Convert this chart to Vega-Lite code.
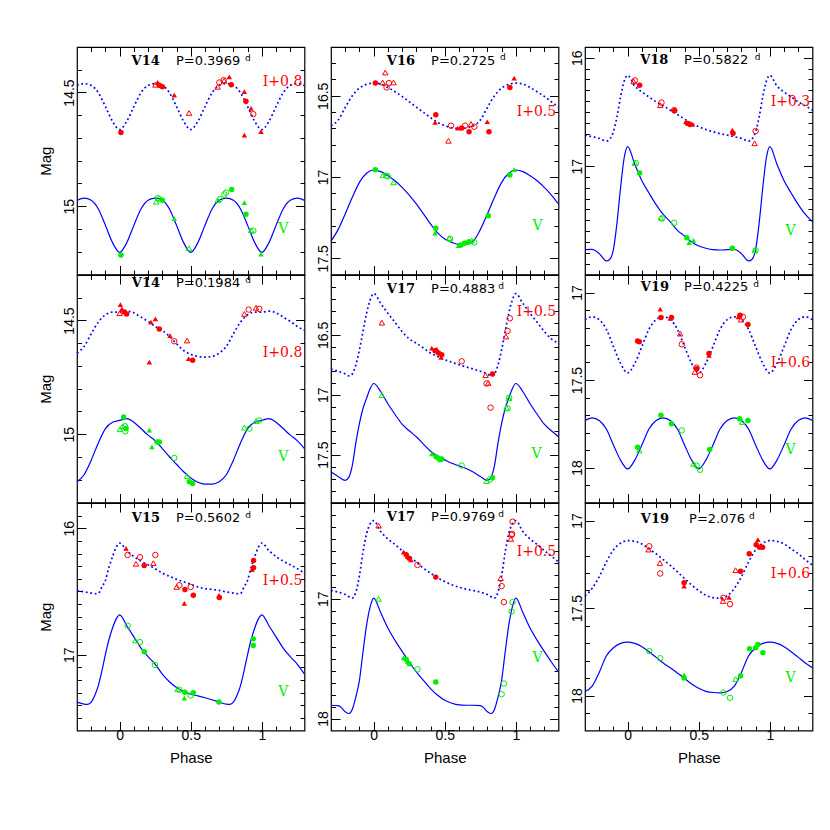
{
"$schema":"https://vega.github.io/schema/vega-lite/v6.json",
"background":"white",
"padding":{"left":37,"top":45,"right":5,"bottom":5},
"autosize":{"type":"pad"},
"bounds":"flush",
"columns":3,
"spacing":{"row":0,"column":26},
"config":{
 "view":{"stroke":"black","strokeWidth":1.2},
 "axis":{"domain":false,"grid":false,"tickColor":"black","tickWidth":1,"labelFont":"Liberation Sans","labelFontSize":14,"labelColor":"black","titleFont":"Liberation Sans","titleFontSize":15,"titleFontWeight":"normal","titleColor":"black","labelOverlap":false,"labelFlush":false},
 "font":"Liberation Sans"
},
"datasets":{
"cv":[
{"k":1,"b":"V","p":-0.3,"m":14.974},{"k":1,"b":"V","p":-0.25,"m":14.964},{"k":1,"b":"V","p":-0.2,"m":14.974},{"k":1,"b":"V","p":-0.15,"m":15.012},{"k":1,"b":"V","p":-0.1,"m":15.084},{"k":1,"b":"V","p":-0.05,"m":15.160},{"k":1,"b":"V","p":0,"m":15.203},{"k":1,"b":"V","p":0.05,"m":15.160},{"k":1,"b":"V","p":0.1,"m":15.084},{"k":1,"b":"V","p":0.15,"m":15.012},{"k":1,"b":"V","p":0.2,"m":14.974},{"k":1,"b":"V","p":0.25,"m":14.964},{"k":1,"b":"V","p":0.3,"m":14.974},{"k":1,"b":"V","p":0.35,"m":15.012},{"k":1,"b":"V","p":0.4,"m":15.084},{"k":1,"b":"V","p":0.45,"m":15.160},{"k":1,"b":"V","p":0.5,"m":15.203},{"k":1,"b":"V","p":0.55,"m":15.160},{"k":1,"b":"V","p":0.6,"m":15.084},{"k":1,"b":"V","p":0.65,"m":15.012},{"k":1,"b":"V","p":0.7,"m":14.974},{"k":1,"b":"V","p":0.75,"m":14.964},{"k":1,"b":"V","p":0.8,"m":14.974},{"k":1,"b":"V","p":0.85,"m":15.012},{"k":1,"b":"V","p":0.9,"m":15.084},{"k":1,"b":"V","p":0.95,"m":15.160},{"k":1,"b":"V","p":1,"m":15.203},{"k":1,"b":"V","p":1.05,"m":15.160},{"k":1,"b":"V","p":1.1,"m":15.084},{"k":1,"b":"V","p":1.15,"m":15.012},{"k":1,"b":"V","p":1.2,"m":14.974},{"k":1,"b":"V","p":1.25,"m":14.964},{"k":1,"b":"V","p":1.3,"m":14.974},
{"k":1,"b":"I","p":-0.3,"m":14.469},{"k":1,"b":"I","p":-0.25,"m":14.461},{"k":1,"b":"I","p":-0.2,"m":14.469},{"k":1,"b":"I","p":-0.15,"m":14.501},{"k":1,"b":"I","p":-0.1,"m":14.562},{"k":1,"b":"I","p":-0.05,"m":14.627},{"k":1,"b":"I","p":0,"m":14.663},{"k":1,"b":"I","p":0.05,"m":14.627},{"k":1,"b":"I","p":0.1,"m":14.562},{"k":1,"b":"I","p":0.15,"m":14.501},{"k":1,"b":"I","p":0.2,"m":14.469},{"k":1,"b":"I","p":0.25,"m":14.461},{"k":1,"b":"I","p":0.3,"m":14.469},{"k":1,"b":"I","p":0.35,"m":14.501},{"k":1,"b":"I","p":0.4,"m":14.562},{"k":1,"b":"I","p":0.45,"m":14.627},{"k":1,"b":"I","p":0.5,"m":14.663},{"k":1,"b":"I","p":0.55,"m":14.627},{"k":1,"b":"I","p":0.6,"m":14.562},{"k":1,"b":"I","p":0.65,"m":14.501},{"k":1,"b":"I","p":0.7,"m":14.469},{"k":1,"b":"I","p":0.75,"m":14.461},{"k":1,"b":"I","p":0.8,"m":14.469},{"k":1,"b":"I","p":0.85,"m":14.501},{"k":1,"b":"I","p":0.9,"m":14.562},{"k":1,"b":"I","p":0.95,"m":14.627},{"k":1,"b":"I","p":1,"m":14.663},{"k":1,"b":"I","p":1.05,"m":14.627},{"k":1,"b":"I","p":1.1,"m":14.562},{"k":1,"b":"I","p":1.15,"m":14.501},{"k":1,"b":"I","p":1.2,"m":14.469},{"k":1,"b":"I","p":1.25,"m":14.461},{"k":1,"b":"I","p":1.3,"m":14.469},
{"k":2,"b":"V","p":-0.3,"m":17.395},{"k":2,"b":"V","p":-0.25,"m":17.324},{"k":2,"b":"V","p":-0.2,"m":17.227},{"k":2,"b":"V","p":-0.15,"m":17.125},{"k":2,"b":"V","p":-0.1,"m":17.033},{"k":2,"b":"V","p":-0.05,"m":16.977},{"k":2,"b":"V","p":0,"m":16.957},{"k":2,"b":"V","p":0.05,"m":16.967},{"k":2,"b":"V","p":0.1,"m":16.992},{"k":2,"b":"V","p":0.15,"m":17.023},{"k":2,"b":"V","p":0.2,"m":17.064},{"k":2,"b":"V","p":0.25,"m":17.111},{"k":2,"b":"V","p":0.3,"m":17.166},{"k":2,"b":"V","p":0.35,"m":17.227},{"k":2,"b":"V","p":0.4,"m":17.289},{"k":2,"b":"V","p":0.45,"m":17.344},{"k":2,"b":"V","p":0.5,"m":17.381},{"k":2,"b":"V","p":0.55,"m":17.402},{"k":2,"b":"V","p":0.6,"m":17.414},{"k":2,"b":"V","p":0.65,"m":17.414},{"k":2,"b":"V","p":0.7,"m":17.395},{"k":2,"b":"V","p":0.75,"m":17.324},{"k":2,"b":"V","p":0.8,"m":17.227},{"k":2,"b":"V","p":0.85,"m":17.125},{"k":2,"b":"V","p":0.9,"m":17.033},{"k":2,"b":"V","p":0.95,"m":16.977},{"k":2,"b":"V","p":1,"m":16.957},{"k":2,"b":"V","p":1.05,"m":16.967},{"k":2,"b":"V","p":1.1,"m":16.992},{"k":2,"b":"V","p":1.15,"m":17.023},{"k":2,"b":"V","p":1.2,"m":17.064},{"k":2,"b":"V","p":1.25,"m":17.111},{"k":2,"b":"V","p":1.3,"m":17.166},
{"k":2,"b":"I","p":-0.3,"m":16.684},{"k":2,"b":"I","p":-0.25,"m":16.650},{"k":2,"b":"I","p":-0.2,"m":16.572},{"k":2,"b":"I","p":-0.15,"m":16.500},{"k":2,"b":"I","p":-0.1,"m":16.453},{"k":2,"b":"I","p":-0.05,"m":16.430},{"k":2,"b":"I","p":0,"m":16.422},{"k":2,"b":"I","p":0.05,"m":16.428},{"k":2,"b":"I","p":0.1,"m":16.449},{"k":2,"b":"I","p":0.15,"m":16.475},{"k":2,"b":"I","p":0.2,"m":16.504},{"k":2,"b":"I","p":0.25,"m":16.537},{"k":2,"b":"I","p":0.3,"m":16.570},{"k":2,"b":"I","p":0.35,"m":16.602},{"k":2,"b":"I","p":0.4,"m":16.635},{"k":2,"b":"I","p":0.45,"m":16.664},{"k":2,"b":"I","p":0.5,"m":16.684},{"k":2,"b":"I","p":0.55,"m":16.697},{"k":2,"b":"I","p":0.6,"m":16.701},{"k":2,"b":"I","p":0.65,"m":16.699},{"k":2,"b":"I","p":0.7,"m":16.684},{"k":2,"b":"I","p":0.75,"m":16.650},{"k":2,"b":"I","p":0.8,"m":16.572},{"k":2,"b":"I","p":0.85,"m":16.500},{"k":2,"b":"I","p":0.9,"m":16.453},{"k":2,"b":"I","p":0.95,"m":16.430},{"k":2,"b":"I","p":1,"m":16.422},{"k":2,"b":"I","p":1.05,"m":16.428},{"k":2,"b":"I","p":1.1,"m":16.449},{"k":2,"b":"I","p":1.15,"m":16.475},{"k":2,"b":"I","p":1.2,"m":16.504},{"k":2,"b":"I","p":1.25,"m":16.537},{"k":2,"b":"I","p":1.3,"m":16.570},
{"k":3,"b":"V","p":-0.3,"m":17.771},{"k":3,"b":"V","p":-0.25,"m":17.768},{"k":3,"b":"V","p":-0.2,"m":17.807},{"k":3,"b":"V","p":-0.15,"m":17.875},{"k":3,"b":"V","p":-0.125,"m":17.859},{"k":3,"b":"V","p":-0.1,"m":17.768},{"k":3,"b":"V","p":-0.075,"m":17.523},{"k":3,"b":"V","p":-0.05,"m":17.202},{"k":3,"b":"V","p":-0.025,"m":16.927},{"k":3,"b":"V","p":0,"m":16.820},{"k":3,"b":"V","p":0.05,"m":16.982},{"k":3,"b":"V","p":0.1,"m":17.135},{"k":3,"b":"V","p":0.15,"m":17.248},{"k":3,"b":"V","p":0.2,"m":17.355},{"k":3,"b":"V","p":0.25,"m":17.446},{"k":3,"b":"V","p":0.3,"m":17.514},{"k":3,"b":"V","p":0.35,"m":17.593},{"k":3,"b":"V","p":0.4,"m":17.645},{"k":3,"b":"V","p":0.45,"m":17.700},{"k":3,"b":"V","p":0.5,"m":17.737},{"k":3,"b":"V","p":0.55,"m":17.758},{"k":3,"b":"V","p":0.6,"m":17.771},{"k":3,"b":"V","p":0.65,"m":17.774},{"k":3,"b":"V","p":0.7,"m":17.771},{"k":3,"b":"V","p":0.75,"m":17.768},{"k":3,"b":"V","p":0.8,"m":17.807},{"k":3,"b":"V","p":0.85,"m":17.875},{"k":3,"b":"V","p":0.875,"m":17.859},{"k":3,"b":"V","p":0.9,"m":17.768},{"k":3,"b":"V","p":0.925,"m":17.523},{"k":3,"b":"V","p":0.95,"m":17.202},{"k":3,"b":"V","p":0.975,"m":16.927},{"k":3,"b":"V","p":1,"m":16.820},{"k":3,"b":"V","p":1.05,"m":16.982},{"k":3,"b":"V","p":1.1,"m":17.135},{"k":3,"b":"V","p":1.15,"m":17.248},{"k":3,"b":"V","p":1.2,"m":17.355},{"k":3,"b":"V","p":1.25,"m":17.446},{"k":3,"b":"V","p":1.3,"m":17.514},
{"k":3,"b":"I","p":-0.3,"m":16.713},{"k":3,"b":"I","p":-0.25,"m":16.728},{"k":3,"b":"I","p":-0.2,"m":16.743},{"k":3,"b":"I","p":-0.15,"m":16.768},{"k":3,"b":"I","p":-0.125,"m":16.749},{"k":3,"b":"I","p":-0.1,"m":16.682},{"k":3,"b":"I","p":-0.075,"m":16.544},{"k":3,"b":"I","p":-0.05,"m":16.361},{"k":3,"b":"I","p":-0.025,"m":16.217},{"k":3,"b":"I","p":0,"m":16.162},{"k":3,"b":"I","p":0.05,"m":16.260},{"k":3,"b":"I","p":0.1,"m":16.315},{"k":3,"b":"I","p":0.15,"m":16.361},{"k":3,"b":"I","p":0.2,"m":16.407},{"k":3,"b":"I","p":0.25,"m":16.443},{"k":3,"b":"I","p":0.3,"m":16.483},{"k":3,"b":"I","p":0.35,"m":16.523},{"k":3,"b":"I","p":0.4,"m":16.566},{"k":3,"b":"I","p":0.45,"m":16.606},{"k":3,"b":"I","p":0.5,"m":16.636},{"k":3,"b":"I","p":0.55,"m":16.661},{"k":3,"b":"I","p":0.6,"m":16.682},{"k":3,"b":"I","p":0.65,"m":16.700},{"k":3,"b":"I","p":0.7,"m":16.713},{"k":3,"b":"I","p":0.75,"m":16.728},{"k":3,"b":"I","p":0.8,"m":16.743},{"k":3,"b":"I","p":0.85,"m":16.768},{"k":3,"b":"I","p":0.875,"m":16.749},{"k":3,"b":"I","p":0.9,"m":16.682},{"k":3,"b":"I","p":0.925,"m":16.544},{"k":3,"b":"I","p":0.95,"m":16.361},{"k":3,"b":"I","p":0.975,"m":16.217},{"k":3,"b":"I","p":1,"m":16.162},{"k":3,"b":"I","p":1.05,"m":16.260},{"k":3,"b":"I","p":1.1,"m":16.315},{"k":3,"b":"I","p":1.15,"m":16.361},{"k":3,"b":"I","p":1.2,"m":16.407},{"k":3,"b":"I","p":1.25,"m":16.443},{"k":3,"b":"I","p":1.3,"m":16.483},
{"k":4,"b":"V","p":-0.3,"m":15.209},{"k":4,"b":"V","p":-0.25,"m":15.178},{"k":4,"b":"V","p":-0.2,"m":15.114},{"k":4,"b":"V","p":-0.15,"m":15.038},{"k":4,"b":"V","p":-0.1,"m":14.975},{"k":4,"b":"V","p":-0.05,"m":14.947},{"k":4,"b":"V","p":0,"m":14.939},{"k":4,"b":"V","p":0.05,"m":14.931},{"k":4,"b":"V","p":0.1,"m":14.947},{"k":4,"b":"V","p":0.15,"m":14.975},{"k":4,"b":"V","p":0.2,"m":15.004},{"k":4,"b":"V","p":0.25,"m":15.029},{"k":4,"b":"V","p":0.3,"m":15.063},{"k":4,"b":"V","p":0.35,"m":15.099},{"k":4,"b":"V","p":0.4,"m":15.132},{"k":4,"b":"V","p":0.45,"m":15.165},{"k":4,"b":"V","p":0.5,"m":15.192},{"k":4,"b":"V","p":0.55,"m":15.211},{"k":4,"b":"V","p":0.6,"m":15.219},{"k":4,"b":"V","p":0.65,"m":15.219},{"k":4,"b":"V","p":0.7,"m":15.209},{"k":4,"b":"V","p":0.75,"m":15.178},{"k":4,"b":"V","p":0.8,"m":15.114},{"k":4,"b":"V","p":0.85,"m":15.038},{"k":4,"b":"V","p":0.9,"m":14.975},{"k":4,"b":"V","p":0.95,"m":14.947},{"k":4,"b":"V","p":1,"m":14.939},{"k":4,"b":"V","p":1.05,"m":14.931},{"k":4,"b":"V","p":1.1,"m":14.947},{"k":4,"b":"V","p":1.15,"m":14.975},{"k":4,"b":"V","p":1.2,"m":15.004},{"k":4,"b":"V","p":1.25,"m":15.029},{"k":4,"b":"V","p":1.3,"m":15.063},
{"k":4,"b":"I","p":-0.3,"m":14.643},{"k":4,"b":"I","p":-0.25,"m":14.614},{"k":4,"b":"I","p":-0.2,"m":14.558},{"k":4,"b":"I","p":-0.15,"m":14.507},{"k":4,"b":"I","p":-0.1,"m":14.475},{"k":4,"b":"I","p":-0.05,"m":14.463},{"k":4,"b":"I","p":0,"m":14.463},{"k":4,"b":"I","p":0.05,"m":14.459},{"k":4,"b":"I","p":0.1,"m":14.466},{"k":4,"b":"I","p":0.15,"m":14.485},{"k":4,"b":"I","p":0.2,"m":14.504},{"k":4,"b":"I","p":0.25,"m":14.526},{"k":4,"b":"I","p":0.3,"m":14.544},{"k":4,"b":"I","p":0.35,"m":14.570},{"k":4,"b":"I","p":0.4,"m":14.602},{"k":4,"b":"I","p":0.45,"m":14.632},{"k":4,"b":"I","p":0.5,"m":14.649},{"k":4,"b":"I","p":0.55,"m":14.658},{"k":4,"b":"I","p":0.6,"m":14.661},{"k":4,"b":"I","p":0.65,"m":14.658},{"k":4,"b":"I","p":0.7,"m":14.643},{"k":4,"b":"I","p":0.75,"m":14.614},{"k":4,"b":"I","p":0.8,"m":14.558},{"k":4,"b":"I","p":0.85,"m":14.507},{"k":4,"b":"I","p":0.9,"m":14.475},{"k":4,"b":"I","p":0.95,"m":14.463},{"k":4,"b":"I","p":1,"m":14.463},{"k":4,"b":"I","p":1.05,"m":14.459},{"k":4,"b":"I","p":1.1,"m":14.466},{"k":4,"b":"I","p":1.15,"m":14.485},{"k":4,"b":"I","p":1.2,"m":14.504},{"k":4,"b":"I","p":1.25,"m":14.526},{"k":4,"b":"I","p":1.3,"m":14.544},
{"k":5,"b":"V","p":-0.3,"m":17.646},{"k":5,"b":"V","p":-0.25,"m":17.682},{"k":5,"b":"V","p":-0.2,"m":17.715},{"k":5,"b":"V","p":-0.175,"m":17.690},{"k":5,"b":"V","p":-0.15,"m":17.590},{"k":5,"b":"V","p":-0.125,"m":17.400},{"k":5,"b":"V","p":-0.1,"m":17.240},{"k":5,"b":"V","p":-0.075,"m":17.115},{"k":5,"b":"V","p":-0.05,"m":17.030},{"k":5,"b":"V","p":-0.025,"m":16.950},{"k":5,"b":"V","p":0,"m":16.906},{"k":5,"b":"V","p":0.05,"m":16.975},{"k":5,"b":"V","p":0.1,"m":17.075},{"k":5,"b":"V","p":0.15,"m":17.163},{"k":5,"b":"V","p":0.2,"m":17.246},{"k":5,"b":"V","p":0.25,"m":17.301},{"k":5,"b":"V","p":0.3,"m":17.351},{"k":5,"b":"V","p":0.35,"m":17.412},{"k":5,"b":"V","p":0.4,"m":17.472},{"k":5,"b":"V","p":0.45,"m":17.514},{"k":5,"b":"V","p":0.5,"m":17.544},{"k":5,"b":"V","p":0.55,"m":17.572},{"k":5,"b":"V","p":0.6,"m":17.594},{"k":5,"b":"V","p":0.65,"m":17.616},{"k":5,"b":"V","p":0.7,"m":17.646},{"k":5,"b":"V","p":0.75,"m":17.682},{"k":5,"b":"V","p":0.8,"m":17.715},{"k":5,"b":"V","p":0.825,"m":17.690},{"k":5,"b":"V","p":0.85,"m":17.590},{"k":5,"b":"V","p":0.875,"m":17.400},{"k":5,"b":"V","p":0.9,"m":17.240},{"k":5,"b":"V","p":0.925,"m":17.115},{"k":5,"b":"V","p":0.95,"m":17.030},{"k":5,"b":"V","p":0.975,"m":16.950},{"k":5,"b":"V","p":1,"m":16.906},{"k":5,"b":"V","p":1.05,"m":16.975},{"k":5,"b":"V","p":1.1,"m":17.075},{"k":5,"b":"V","p":1.15,"m":17.163},{"k":5,"b":"V","p":1.2,"m":17.246},{"k":5,"b":"V","p":1.25,"m":17.301},{"k":5,"b":"V","p":1.3,"m":17.351},
{"k":5,"b":"I","p":-0.3,"m":16.785},{"k":5,"b":"I","p":-0.25,"m":16.804},{"k":5,"b":"I","p":-0.2,"m":16.826},{"k":5,"b":"I","p":-0.175,"m":16.843},{"k":5,"b":"I","p":-0.15,"m":16.826},{"k":5,"b":"I","p":-0.125,"m":16.749},{"k":5,"b":"I","p":-0.1,"m":16.624},{"k":5,"b":"I","p":-0.075,"m":16.472},{"k":5,"b":"I","p":-0.05,"m":16.320},{"k":5,"b":"I","p":-0.025,"m":16.210},{"k":5,"b":"I","p":0,"m":16.155},{"k":5,"b":"I","p":0.05,"m":16.238},{"k":5,"b":"I","p":0.1,"m":16.320},{"k":5,"b":"I","p":0.15,"m":16.395},{"k":5,"b":"I","p":0.2,"m":16.472},{"k":5,"b":"I","p":0.25,"m":16.533},{"k":5,"b":"I","p":0.3,"m":16.569},{"k":5,"b":"I","p":0.35,"m":16.610},{"k":5,"b":"I","p":0.4,"m":16.652},{"k":5,"b":"I","p":0.45,"m":16.680},{"k":5,"b":"I","p":0.5,"m":16.707},{"k":5,"b":"I","p":0.55,"m":16.729},{"k":5,"b":"I","p":0.6,"m":16.749},{"k":5,"b":"I","p":0.65,"m":16.768},{"k":5,"b":"I","p":0.7,"m":16.785},{"k":5,"b":"I","p":0.75,"m":16.804},{"k":5,"b":"I","p":0.8,"m":16.826},{"k":5,"b":"I","p":0.825,"m":16.843},{"k":5,"b":"I","p":0.85,"m":16.826},{"k":5,"b":"I","p":0.875,"m":16.749},{"k":5,"b":"I","p":0.9,"m":16.624},{"k":5,"b":"I","p":0.925,"m":16.472},{"k":5,"b":"I","p":0.95,"m":16.320},{"k":5,"b":"I","p":0.975,"m":16.210},{"k":5,"b":"I","p":1,"m":16.155},{"k":5,"b":"I","p":1.05,"m":16.238},{"k":5,"b":"I","p":1.1,"m":16.320},{"k":5,"b":"I","p":1.15,"m":16.395},{"k":5,"b":"I","p":1.2,"m":16.472},{"k":5,"b":"I","p":1.25,"m":16.533},{"k":5,"b":"I","p":1.3,"m":16.569},
{"k":6,"b":"V","p":-0.3,"m":17.731},{"k":6,"b":"V","p":-0.25,"m":17.716},{"k":6,"b":"V","p":-0.2,"m":17.731},{"k":6,"b":"V","p":-0.15,"m":17.780},{"k":6,"b":"V","p":-0.1,"m":17.871},{"k":6,"b":"V","p":-0.05,"m":17.958},{"k":6,"b":"V","p":0,"m":18.008},{"k":6,"b":"V","p":0.05,"m":17.958},{"k":6,"b":"V","p":0.1,"m":17.871},{"k":6,"b":"V","p":0.15,"m":17.780},{"k":6,"b":"V","p":0.2,"m":17.731},{"k":6,"b":"V","p":0.25,"m":17.716},{"k":6,"b":"V","p":0.3,"m":17.731},{"k":6,"b":"V","p":0.35,"m":17.780},{"k":6,"b":"V","p":0.4,"m":17.871},{"k":6,"b":"V","p":0.45,"m":17.958},{"k":6,"b":"V","p":0.5,"m":18.008},{"k":6,"b":"V","p":0.55,"m":17.958},{"k":6,"b":"V","p":0.6,"m":17.871},{"k":6,"b":"V","p":0.65,"m":17.780},{"k":6,"b":"V","p":0.7,"m":17.731},{"k":6,"b":"V","p":0.75,"m":17.716},{"k":6,"b":"V","p":0.8,"m":17.731},{"k":6,"b":"V","p":0.85,"m":17.780},{"k":6,"b":"V","p":0.9,"m":17.871},{"k":6,"b":"V","p":0.95,"m":17.958},{"k":6,"b":"V","p":1,"m":18.008},{"k":6,"b":"V","p":1.05,"m":17.958},{"k":6,"b":"V","p":1.1,"m":17.871},{"k":6,"b":"V","p":1.15,"m":17.780},{"k":6,"b":"V","p":1.2,"m":17.731},{"k":6,"b":"V","p":1.25,"m":17.716},{"k":6,"b":"V","p":1.3,"m":17.731},
{"k":6,"b":"I","p":-0.3,"m":17.155},{"k":6,"b":"I","p":-0.25,"m":17.139},{"k":6,"b":"I","p":-0.2,"m":17.155},{"k":6,"b":"I","p":-0.15,"m":17.210},{"k":6,"b":"I","p":-0.1,"m":17.309},{"k":6,"b":"I","p":-0.05,"m":17.405},{"k":6,"b":"I","p":0,"m":17.460},{"k":6,"b":"I","p":0.05,"m":17.405},{"k":6,"b":"I","p":0.1,"m":17.309},{"k":6,"b":"I","p":0.15,"m":17.210},{"k":6,"b":"I","p":0.2,"m":17.155},{"k":6,"b":"I","p":0.25,"m":17.139},{"k":6,"b":"I","p":0.3,"m":17.155},{"k":6,"b":"I","p":0.35,"m":17.210},{"k":6,"b":"I","p":0.4,"m":17.309},{"k":6,"b":"I","p":0.45,"m":17.405},{"k":6,"b":"I","p":0.5,"m":17.460},{"k":6,"b":"I","p":0.55,"m":17.405},{"k":6,"b":"I","p":0.6,"m":17.309},{"k":6,"b":"I","p":0.65,"m":17.210},{"k":6,"b":"I","p":0.7,"m":17.155},{"k":6,"b":"I","p":0.75,"m":17.139},{"k":6,"b":"I","p":0.8,"m":17.155},{"k":6,"b":"I","p":0.85,"m":17.210},{"k":6,"b":"I","p":0.9,"m":17.309},{"k":6,"b":"I","p":0.95,"m":17.405},{"k":6,"b":"I","p":1,"m":17.460},{"k":6,"b":"I","p":1.05,"m":17.405},{"k":6,"b":"I","p":1.1,"m":17.309},{"k":6,"b":"I","p":1.15,"m":17.210},{"k":6,"b":"I","p":1.2,"m":17.155},{"k":6,"b":"I","p":1.25,"m":17.139},{"k":6,"b":"I","p":1.3,"m":17.155},
{"k":7,"b":"V","p":-0.3,"m":17.375},{"k":7,"b":"V","p":-0.25,"m":17.391},{"k":7,"b":"V","p":-0.225,"m":17.393},{"k":7,"b":"V","p":-0.2,"m":17.375},{"k":7,"b":"V","p":-0.175,"m":17.323},{"k":7,"b":"V","p":-0.15,"m":17.245},{"k":7,"b":"V","p":-0.125,"m":17.128},{"k":7,"b":"V","p":-0.1,"m":16.997},{"k":7,"b":"V","p":-0.075,"m":16.880},{"k":7,"b":"V","p":-0.05,"m":16.789},{"k":7,"b":"V","p":-0.025,"m":16.719},{"k":7,"b":"V","p":0,"m":16.685},{"k":7,"b":"V","p":0.05,"m":16.771},{"k":7,"b":"V","p":0.1,"m":16.859},{"k":7,"b":"V","p":0.15,"m":16.948},{"k":7,"b":"V","p":0.2,"m":17.016},{"k":7,"b":"V","p":0.25,"m":17.076},{"k":7,"b":"V","p":0.3,"m":17.154},{"k":7,"b":"V","p":0.35,"m":17.214},{"k":7,"b":"V","p":0.4,"m":17.260},{"k":7,"b":"V","p":0.45,"m":17.292},{"k":7,"b":"V","p":0.5,"m":17.313},{"k":7,"b":"V","p":0.55,"m":17.326},{"k":7,"b":"V","p":0.6,"m":17.341},{"k":7,"b":"V","p":0.65,"m":17.357},{"k":7,"b":"V","p":0.7,"m":17.375},{"k":7,"b":"V","p":0.75,"m":17.391},{"k":7,"b":"V","p":0.775,"m":17.393},{"k":7,"b":"V","p":0.8,"m":17.375},{"k":7,"b":"V","p":0.825,"m":17.323},{"k":7,"b":"V","p":0.85,"m":17.245},{"k":7,"b":"V","p":0.875,"m":17.128},{"k":7,"b":"V","p":0.9,"m":16.997},{"k":7,"b":"V","p":0.925,"m":16.880},{"k":7,"b":"V","p":0.95,"m":16.789},{"k":7,"b":"V","p":0.975,"m":16.719},{"k":7,"b":"V","p":1,"m":16.685},{"k":7,"b":"V","p":1.05,"m":16.771},{"k":7,"b":"V","p":1.1,"m":16.859},{"k":7,"b":"V","p":1.15,"m":16.948},{"k":7,"b":"V","p":1.2,"m":17.016},{"k":7,"b":"V","p":1.25,"m":17.076},{"k":7,"b":"V","p":1.3,"m":17.154},
{"k":7,"b":"I","p":-0.3,"m":16.492},{"k":7,"b":"I","p":-0.25,"m":16.503},{"k":7,"b":"I","p":-0.2,"m":16.513},{"k":7,"b":"I","p":-0.175,"m":16.518},{"k":7,"b":"I","p":-0.15,"m":16.516},{"k":7,"b":"I","p":-0.125,"m":16.464},{"k":7,"b":"I","p":-0.1,"m":16.411},{"k":7,"b":"I","p":-0.075,"m":16.307},{"k":7,"b":"I","p":-0.05,"m":16.224},{"k":7,"b":"I","p":-0.025,"m":16.151},{"k":7,"b":"I","p":0,"m":16.117},{"k":7,"b":"I","p":0.05,"m":16.177},{"k":7,"b":"I","p":0.1,"m":16.224},{"k":7,"b":"I","p":0.15,"m":16.260},{"k":7,"b":"I","p":0.2,"m":16.289},{"k":7,"b":"I","p":0.25,"m":16.320},{"k":7,"b":"I","p":0.3,"m":16.354},{"k":7,"b":"I","p":0.35,"m":16.380},{"k":7,"b":"I","p":0.4,"m":16.404},{"k":7,"b":"I","p":0.45,"m":16.424},{"k":7,"b":"I","p":0.5,"m":16.443},{"k":7,"b":"I","p":0.55,"m":16.464},{"k":7,"b":"I","p":0.6,"m":16.477},{"k":7,"b":"I","p":0.65,"m":16.484},{"k":7,"b":"I","p":0.7,"m":16.492},{"k":7,"b":"I","p":0.75,"m":16.503},{"k":7,"b":"I","p":0.8,"m":16.513},{"k":7,"b":"I","p":0.825,"m":16.518},{"k":7,"b":"I","p":0.85,"m":16.516},{"k":7,"b":"I","p":0.875,"m":16.464},{"k":7,"b":"I","p":0.9,"m":16.411},{"k":7,"b":"I","p":0.925,"m":16.307},{"k":7,"b":"I","p":0.95,"m":16.224},{"k":7,"b":"I","p":0.975,"m":16.151},{"k":7,"b":"I","p":1,"m":16.117},{"k":7,"b":"I","p":1.05,"m":16.177},{"k":7,"b":"I","p":1.1,"m":16.224},{"k":7,"b":"I","p":1.15,"m":16.260},{"k":7,"b":"I","p":1.2,"m":16.289},{"k":7,"b":"I","p":1.25,"m":16.320},{"k":7,"b":"I","p":1.3,"m":16.354},
{"k":8,"b":"V","p":-0.3,"m":17.889},{"k":8,"b":"V","p":-0.25,"m":17.892},{"k":8,"b":"V","p":-0.225,"m":17.911},{"k":8,"b":"V","p":-0.2,"m":17.944},{"k":8,"b":"V","p":-0.175,"m":17.958},{"k":8,"b":"V","p":-0.15,"m":17.922},{"k":8,"b":"V","p":-0.125,"m":17.819},{"k":8,"b":"V","p":-0.1,"m":17.681},{"k":8,"b":"V","p":-0.075,"m":17.444},{"k":8,"b":"V","p":-0.05,"m":17.222},{"k":8,"b":"V","p":-0.025,"m":17.069},{"k":8,"b":"V","p":0,"m":16.994},{"k":8,"b":"V","p":0.05,"m":17.117},{"k":8,"b":"V","p":0.1,"m":17.244},{"k":8,"b":"V","p":0.15,"m":17.347},{"k":8,"b":"V","p":0.2,"m":17.439},{"k":8,"b":"V","p":0.25,"m":17.528},{"k":8,"b":"V","p":0.3,"m":17.611},{"k":8,"b":"V","p":0.35,"m":17.681},{"k":8,"b":"V","p":0.4,"m":17.750},{"k":8,"b":"V","p":0.45,"m":17.806},{"k":8,"b":"V","p":0.5,"m":17.847},{"k":8,"b":"V","p":0.55,"m":17.872},{"k":8,"b":"V","p":0.6,"m":17.886},{"k":8,"b":"V","p":0.65,"m":17.889},{"k":8,"b":"V","p":0.7,"m":17.889},{"k":8,"b":"V","p":0.75,"m":17.892},{"k":8,"b":"V","p":0.775,"m":17.911},{"k":8,"b":"V","p":0.8,"m":17.944},{"k":8,"b":"V","p":0.825,"m":17.958},{"k":8,"b":"V","p":0.85,"m":17.922},{"k":8,"b":"V","p":0.875,"m":17.819},{"k":8,"b":"V","p":0.9,"m":17.681},{"k":8,"b":"V","p":0.925,"m":17.444},{"k":8,"b":"V","p":0.95,"m":17.222},{"k":8,"b":"V","p":0.975,"m":17.069},{"k":8,"b":"V","p":1,"m":16.994},{"k":8,"b":"V","p":1.05,"m":17.117},{"k":8,"b":"V","p":1.1,"m":17.244},{"k":8,"b":"V","p":1.15,"m":17.347},{"k":8,"b":"V","p":1.2,"m":17.439},{"k":8,"b":"V","p":1.25,"m":17.528},{"k":8,"b":"V","p":1.3,"m":17.611},
{"k":8,"b":"I","p":-0.3,"m":16.931},{"k":8,"b":"I","p":-0.25,"m":16.944},{"k":8,"b":"I","p":-0.2,"m":16.964},{"k":8,"b":"I","p":-0.15,"m":16.994},{"k":8,"b":"I","p":-0.125,"m":16.944},{"k":8,"b":"I","p":-0.1,"m":16.806},{"k":8,"b":"I","p":-0.075,"m":16.611},{"k":8,"b":"I","p":-0.05,"m":16.458},{"k":8,"b":"I","p":-0.025,"m":16.375},{"k":8,"b":"I","p":0,"m":16.347},{"k":8,"b":"I","p":0.05,"m":16.439},{"k":8,"b":"I","p":0.1,"m":16.500},{"k":8,"b":"I","p":0.15,"m":16.547},{"k":8,"b":"I","p":0.2,"m":16.597},{"k":8,"b":"I","p":0.25,"m":16.644},{"k":8,"b":"I","p":0.3,"m":16.694},{"k":8,"b":"I","p":0.35,"m":16.744},{"k":8,"b":"I","p":0.4,"m":16.786},{"k":8,"b":"I","p":0.45,"m":16.825},{"k":8,"b":"I","p":0.5,"m":16.856},{"k":8,"b":"I","p":0.55,"m":16.883},{"k":8,"b":"I","p":0.6,"m":16.903},{"k":8,"b":"I","p":0.65,"m":16.919},{"k":8,"b":"I","p":0.7,"m":16.931},{"k":8,"b":"I","p":0.75,"m":16.944},{"k":8,"b":"I","p":0.8,"m":16.964},{"k":8,"b":"I","p":0.85,"m":16.994},{"k":8,"b":"I","p":0.875,"m":16.944},{"k":8,"b":"I","p":0.9,"m":16.806},{"k":8,"b":"I","p":0.925,"m":16.611},{"k":8,"b":"I","p":0.95,"m":16.458},{"k":8,"b":"I","p":0.975,"m":16.375},{"k":8,"b":"I","p":1,"m":16.347},{"k":8,"b":"I","p":1.05,"m":16.439},{"k":8,"b":"I","p":1.1,"m":16.500},{"k":8,"b":"I","p":1.15,"m":16.547},{"k":8,"b":"I","p":1.2,"m":16.597},{"k":8,"b":"I","p":1.25,"m":16.644},{"k":8,"b":"I","p":1.3,"m":16.694},
{"k":9,"b":"V","p":-0.3,"m":17.977},{"k":9,"b":"V","p":-0.25,"m":17.947},{"k":9,"b":"V","p":-0.2,"m":17.868},{"k":9,"b":"V","p":-0.15,"m":17.774},{"k":9,"b":"V","p":-0.1,"m":17.727},{"k":9,"b":"V","p":-0.05,"m":17.702},{"k":9,"b":"V","p":0,"m":17.695},{"k":9,"b":"V","p":0.05,"m":17.702},{"k":9,"b":"V","p":0.1,"m":17.721},{"k":9,"b":"V","p":0.15,"m":17.750},{"k":9,"b":"V","p":0.2,"m":17.782},{"k":9,"b":"V","p":0.25,"m":17.814},{"k":9,"b":"V","p":0.3,"m":17.842},{"k":9,"b":"V","p":0.35,"m":17.872},{"k":9,"b":"V","p":0.4,"m":17.902},{"k":9,"b":"V","p":0.45,"m":17.934},{"k":9,"b":"V","p":0.5,"m":17.959},{"k":9,"b":"V","p":0.55,"m":17.976},{"k":9,"b":"V","p":0.6,"m":17.983},{"k":9,"b":"V","p":0.65,"m":17.985},{"k":9,"b":"V","p":0.7,"m":17.977},{"k":9,"b":"V","p":0.75,"m":17.947},{"k":9,"b":"V","p":0.8,"m":17.868},{"k":9,"b":"V","p":0.85,"m":17.774},{"k":9,"b":"V","p":0.9,"m":17.727},{"k":9,"b":"V","p":0.95,"m":17.702},{"k":9,"b":"V","p":1,"m":17.695},{"k":9,"b":"V","p":1.05,"m":17.702},{"k":9,"b":"V","p":1.1,"m":17.721},{"k":9,"b":"V","p":1.15,"m":17.750},{"k":9,"b":"V","p":1.2,"m":17.782},{"k":9,"b":"V","p":1.25,"m":17.814},{"k":9,"b":"V","p":1.3,"m":17.842},
{"k":9,"b":"I","p":-0.3,"m":17.431},{"k":9,"b":"I","p":-0.25,"m":17.388},{"k":9,"b":"I","p":-0.2,"m":17.322},{"k":9,"b":"I","p":-0.15,"m":17.237},{"k":9,"b":"I","p":-0.1,"m":17.168},{"k":9,"b":"I","p":-0.05,"m":17.130},{"k":9,"b":"I","p":0,"m":17.115},{"k":9,"b":"I","p":0.05,"m":17.119},{"k":9,"b":"I","p":0.1,"m":17.134},{"k":9,"b":"I","p":0.15,"m":17.162},{"k":9,"b":"I","p":0.2,"m":17.190},{"k":9,"b":"I","p":0.25,"m":17.224},{"k":9,"b":"I","p":0.3,"m":17.256},{"k":9,"b":"I","p":0.35,"m":17.294},{"k":9,"b":"I","p":0.4,"m":17.331},{"k":9,"b":"I","p":0.45,"m":17.369},{"k":9,"b":"I","p":0.5,"m":17.401},{"k":9,"b":"I","p":0.55,"m":17.427},{"k":9,"b":"I","p":0.6,"m":17.441},{"k":9,"b":"I","p":0.65,"m":17.444},{"k":9,"b":"I","p":0.7,"m":17.431},{"k":9,"b":"I","p":0.75,"m":17.388},{"k":9,"b":"I","p":0.8,"m":17.322},{"k":9,"b":"I","p":0.85,"m":17.237},{"k":9,"b":"I","p":0.9,"m":17.168},{"k":9,"b":"I","p":0.95,"m":17.130},{"k":9,"b":"I","p":1,"m":17.115},{"k":9,"b":"I","p":1.05,"m":17.119},{"k":9,"b":"I","p":1.1,"m":17.134},{"k":9,"b":"I","p":1.15,"m":17.162},{"k":9,"b":"I","p":1.2,"m":17.190},{"k":9,"b":"I","p":1.25,"m":17.224},{"k":9,"b":"I","p":1.3,"m":17.256}
],
"pt":[
{"k":1,"b":"I","f":1,"s":"c","p":0.009,"m":14.676},{"k":1,"b":"I","f":0,"s":"t","p":0.251,"m":14.466},{"k":1,"b":"I","f":1,"s":"t","p":0.267,"m":14.456},{"k":1,"b":"I","f":1,"s":"c","p":0.279,"m":14.468},{"k":1,"b":"I","f":1,"s":"c","p":0.300,"m":14.475},{"k":1,"b":"I","f":1,"s":"t","p":0.384,"m":14.512},{"k":1,"b":"I","f":0,"s":"t","p":0.488,"m":14.590},{"k":1,"b":"I","f":0,"s":"t","p":0.689,"m":14.475},{"k":1,"b":"I","f":0,"s":"c","p":0.701,"m":14.456},{"k":1,"b":"I","f":0,"s":"c","p":0.731,"m":14.446},{"k":1,"b":"I","f":0,"s":"t","p":0.735,"m":14.448},{"k":1,"b":"I","f":1,"s":"t","p":0.771,"m":14.431},{"k":1,"b":"I","f":1,"s":"c","p":0.785,"m":14.466},{"k":1,"b":"I","f":1,"s":"t","p":0.877,"m":14.496},{"k":1,"b":"I","f":1,"s":"c","p":0.888,"m":14.538},{"k":1,"b":"I","f":1,"s":"t","p":0.924,"m":14.570},{"k":1,"b":"I","f":0,"s":"c","p":0.940,"m":14.595},{"k":1,"b":"I","f":1,"s":"t","p":0.877,"m":14.687},{"k":1,"b":"I","f":1,"s":"t","p":0.994,"m":14.672},
{"k":1,"b":"V","f":1,"s":"c","p":0.009,"m":15.214},{"k":1,"b":"V","f":0,"s":"t","p":0.256,"m":14.980},{"k":1,"b":"V","f":0,"s":"c","p":0.267,"m":14.964},{"k":1,"b":"V","f":0,"s":"c","p":0.279,"m":14.969},{"k":1,"b":"V","f":1,"s":"c","p":0.300,"m":14.974},{"k":1,"b":"V","f":1,"s":"t","p":0.384,"m":15.054},{"k":1,"b":"V","f":0,"s":"t","p":0.488,"m":15.185},{"k":1,"b":"V","f":0,"s":"t","p":0.689,"m":14.974},{"k":1,"b":"V","f":0,"s":"c","p":0.706,"m":14.969},{"k":1,"b":"V","f":0,"s":"c","p":0.736,"m":14.948},{"k":1,"b":"V","f":0,"s":"c","p":0.748,"m":14.940},{"k":1,"b":"V","f":1,"s":"c","p":0.788,"m":14.926},{"k":1,"b":"V","f":1,"s":"t","p":0.877,"m":14.984},{"k":1,"b":"V","f":1,"s":"c","p":0.888,"m":15.035},{"k":1,"b":"V","f":0,"s":"t","p":0.924,"m":15.105},{"k":1,"b":"V","f":0,"s":"c","p":0.940,"m":15.108},{"k":1,"b":"V","f":1,"s":"t","p":0.994,"m":15.211},
{"k":2,"b":"I","f":1,"s":"c","p":0.012,"m":16.422},{"k":2,"b":"I","f":0,"s":"t","p":0.082,"m":16.357},{"k":2,"b":"I","f":0,"s":"t","p":0.063,"m":16.418},{"k":2,"b":"I","f":0,"s":"c","p":0.091,"m":16.449},{"k":2,"b":"I","f":0,"s":"c","p":0.107,"m":16.422},{"k":2,"b":"I","f":0,"s":"t","p":0.140,"m":16.418},{"k":2,"b":"I","f":1,"s":"c","p":0.437,"m":16.617},{"k":2,"b":"I","f":1,"s":"t","p":0.432,"m":16.664},{"k":2,"b":"I","f":0,"s":"t","p":0.526,"m":16.777},{"k":2,"b":"I","f":0,"s":"c","p":0.544,"m":16.684},{"k":2,"b":"I","f":1,"s":"t","p":0.591,"m":16.699},{"k":2,"b":"I","f":1,"s":"c","p":0.619,"m":16.699},{"k":2,"b":"I","f":0,"s":"c","p":0.643,"m":16.684},{"k":2,"b":"I","f":1,"s":"c","p":0.671,"m":16.721},{"k":2,"b":"I","f":0,"s":"t","p":0.685,"m":16.674},{"k":2,"b":"I","f":0,"s":"c","p":0.708,"m":16.691},{"k":2,"b":"I","f":1,"s":"t","p":0.799,"m":16.660},{"k":2,"b":"I","f":1,"s":"c","p":0.811,"m":16.721},{"k":2,"b":"I","f":1,"s":"c","p":0.958,"m":16.449},{"k":2,"b":"I","f":1,"s":"t","p":0.988,"m":16.391},
{"k":2,"b":"V","f":1,"s":"c","p":0.012,"m":16.955},{"k":2,"b":"V","f":0,"s":"t","p":0.065,"m":16.988},{"k":2,"b":"V","f":0,"s":"c","p":0.089,"m":16.992},{"k":2,"b":"V","f":0,"s":"c","p":0.100,"m":16.996},{"k":2,"b":"V","f":0,"s":"t","p":0.140,"m":17.033},{"k":2,"b":"V","f":1,"s":"c","p":0.437,"m":17.316},{"k":2,"b":"V","f":1,"s":"t","p":0.432,"m":17.346},{"k":2,"b":"V","f":0,"s":"c","p":0.537,"m":17.381},{"k":2,"b":"V","f":0,"s":"t","p":0.533,"m":17.377},{"k":2,"b":"V","f":1,"s":"t","p":0.596,"m":17.422},{"k":2,"b":"V","f":1,"s":"c","p":0.614,"m":17.418},{"k":2,"b":"V","f":1,"s":"c","p":0.638,"m":17.408},{"k":2,"b":"V","f":1,"s":"t","p":0.654,"m":17.402},{"k":2,"b":"V","f":1,"s":"c","p":0.671,"m":17.398},{"k":2,"b":"V","f":0,"s":"t","p":0.689,"m":17.391},{"k":2,"b":"V","f":0,"s":"c","p":0.708,"m":17.402},{"k":2,"b":"V","f":1,"s":"c","p":0.806,"m":17.238},{"k":2,"b":"V","f":1,"s":"c","p":0.958,"m":16.988},{"k":2,"b":"V","f":1,"s":"t","p":0.988,"m":16.955},
{"k":3,"b":"I","f":0,"s":"t","p":0.042,"m":16.217},{"k":3,"b":"I","f":0,"s":"c","p":0.051,"m":16.208},{"k":3,"b":"I","f":1,"s":"c","p":0.084,"m":16.254},{"k":3,"b":"I","f":0,"s":"t","p":0.229,"m":16.437},{"k":3,"b":"I","f":0,"s":"c","p":0.238,"m":16.413},{"k":3,"b":"I","f":0,"s":"c","p":0.327,"m":16.483},{"k":3,"b":"I","f":1,"s":"c","p":0.330,"m":16.488},{"k":3,"b":"I","f":1,"s":"t","p":0.409,"m":16.590},{"k":3,"b":"I","f":1,"s":"c","p":0.421,"m":16.605},{"k":3,"b":"I","f":1,"s":"c","p":0.439,"m":16.615},{"k":3,"b":"I","f":1,"s":"t","p":0.456,"m":16.615},{"k":3,"b":"I","f":1,"s":"t","p":0.736,"m":16.667},{"k":3,"b":"I","f":1,"s":"c","p":0.741,"m":16.697},{"k":3,"b":"I","f":0,"s":"c","p":0.900,"m":16.676},{"k":3,"b":"I","f":0,"s":"t","p":0.893,"m":16.789},
{"k":3,"b":"V","f":0,"s":"t","p":0.051,"m":16.972},{"k":3,"b":"V","f":0,"s":"c","p":0.058,"m":16.972},{"k":3,"b":"V","f":1,"s":"c","p":0.084,"m":17.064},{"k":3,"b":"V","f":0,"s":"t","p":0.234,"m":17.477},{"k":3,"b":"V","f":0,"s":"c","p":0.241,"m":17.483},{"k":3,"b":"V","f":0,"s":"c","p":0.327,"m":17.523},{"k":3,"b":"V","f":1,"s":"c","p":0.416,"m":17.661},{"k":3,"b":"V","f":1,"s":"t","p":0.432,"m":17.706},{"k":3,"b":"V","f":1,"s":"t","p":0.463,"m":17.685},{"k":3,"b":"V","f":1,"s":"c","p":0.736,"m":17.758},{"k":3,"b":"V","f":1,"s":"t","p":0.741,"m":17.752},{"k":3,"b":"V","f":0,"s":"c","p":0.900,"m":17.777},{"k":3,"b":"V","f":0,"s":"t","p":0.895,"m":17.777},
{"k":4,"b":"I","f":1,"s":"t","p":0.005,"m":14.430},{"k":4,"b":"I","f":0,"s":"t","p":0.000,"m":14.468},{"k":4,"b":"I","f":1,"s":"c","p":0.033,"m":14.463},{"k":4,"b":"I","f":1,"s":"c","p":0.049,"m":14.471},{"k":4,"b":"I","f":1,"s":"t","p":0.016,"m":14.449},{"k":4,"b":"I","f":1,"s":"t","p":0.220,"m":14.507},{"k":4,"b":"I","f":1,"s":"t","p":0.251,"m":14.493},{"k":4,"b":"I","f":1,"s":"c","p":0.279,"m":14.537},{"k":4,"b":"I","f":1,"s":"t","p":0.209,"m":14.683},{"k":4,"b":"I","f":1,"s":"t","p":0.354,"m":14.566},{"k":4,"b":"I","f":0,"s":"c","p":0.384,"m":14.591},{"k":4,"b":"I","f":0,"s":"t","p":0.474,"m":14.588},{"k":4,"b":"I","f":1,"s":"t","p":0.485,"m":14.668},{"k":4,"b":"I","f":1,"s":"c","p":0.513,"m":14.675},{"k":4,"b":"I","f":0,"s":"t","p":0.877,"m":14.471},{"k":4,"b":"I","f":0,"s":"c","p":0.907,"m":14.452},{"k":4,"b":"I","f":0,"s":"t","p":0.959,"m":14.444},{"k":4,"b":"I","f":0,"s":"c","p":0.982,"m":14.449},
{"k":4,"b":"V","f":1,"s":"c","p":0.028,"m":14.924},{"k":4,"b":"V","f":0,"s":"t","p":0.002,"m":14.978},{"k":4,"b":"V","f":0,"s":"t","p":0.021,"m":14.965},{"k":4,"b":"V","f":0,"s":"c","p":0.038,"m":14.965},{"k":4,"b":"V","f":1,"s":"c","p":0.045,"m":14.975},{"k":4,"b":"V","f":0,"s":"c","p":0.040,"m":14.987},{"k":4,"b":"V","f":1,"s":"t","p":0.209,"m":14.982},{"k":4,"b":"V","f":1,"s":"t","p":0.227,"m":15.056},{"k":4,"b":"V","f":1,"s":"c","p":0.263,"m":15.034},{"k":4,"b":"V","f":1,"s":"c","p":0.279,"m":15.034},{"k":4,"b":"V","f":0,"s":"c","p":0.384,"m":15.104},{"k":4,"b":"V","f":0,"s":"t","p":0.474,"m":15.183},{"k":4,"b":"V","f":1,"s":"c","p":0.490,"m":15.209},{"k":4,"b":"V","f":1,"s":"c","p":0.513,"m":15.216},{"k":4,"b":"V","f":0,"s":"t","p":0.877,"m":14.971},{"k":4,"b":"V","f":0,"s":"c","p":0.912,"m":14.975},{"k":4,"b":"V","f":0,"s":"t","p":0.959,"m":14.942},{"k":4,"b":"V","f":0,"s":"c","p":0.982,"m":14.939},
{"k":5,"b":"I","f":0,"s":"t","p":0.058,"m":16.398},{"k":5,"b":"I","f":1,"s":"t","p":0.409,"m":16.610},{"k":5,"b":"I","f":1,"s":"c","p":0.432,"m":16.633},{"k":5,"b":"I","f":1,"s":"t","p":0.444,"m":16.619},{"k":5,"b":"I","f":1,"s":"c","p":0.456,"m":16.652},{"k":5,"b":"I","f":1,"s":"c","p":0.479,"m":16.666},{"k":5,"b":"I","f":1,"s":"t","p":0.474,"m":16.688},{"k":5,"b":"I","f":0,"s":"c","p":0.619,"m":16.721},{"k":5,"b":"I","f":0,"s":"t","p":0.787,"m":16.837},{"k":5,"b":"I","f":0,"s":"t","p":0.806,"m":16.901},{"k":5,"b":"I","f":0,"s":"c","p":0.794,"m":16.906},{"k":5,"b":"I","f":1,"s":"c","p":0.836,"m":16.826},{"k":5,"b":"I","f":0,"s":"c","p":0.822,"m":17.108},{"k":5,"b":"I","f":0,"s":"t","p":0.930,"m":16.514},{"k":5,"b":"I","f":0,"s":"c","p":0.942,"m":16.467},{"k":5,"b":"I","f":0,"s":"c","p":0.958,"m":16.362},
{"k":5,"b":"V","f":0,"s":"t","p":0.058,"m":17.003},{"k":5,"b":"V","f":1,"s":"t","p":0.409,"m":17.494},{"k":5,"b":"V","f":1,"s":"c","p":0.439,"m":17.517},{"k":5,"b":"V","f":1,"s":"c","p":0.456,"m":17.530},{"k":5,"b":"V","f":1,"s":"t","p":0.467,"m":17.544},{"k":5,"b":"V","f":1,"s":"c","p":0.479,"m":17.536},{"k":5,"b":"V","f":0,"s":"c","p":0.619,"m":17.591},{"k":5,"b":"V","f":0,"s":"t","p":0.794,"m":17.721},{"k":5,"b":"V","f":0,"s":"c","p":0.818,"m":17.707},{"k":5,"b":"V","f":1,"s":"c","p":0.836,"m":17.693},{"k":5,"b":"V","f":0,"s":"t","p":0.935,"m":17.108},{"k":5,"b":"V","f":0,"s":"c","p":0.942,"m":17.113},{"k":5,"b":"V","f":0,"s":"c","p":0.953,"m":17.025},{"k":5,"b":"V","f":0,"s":"t","p":0.951,"m":17.030},
{"k":6,"b":"I","f":1,"s":"c","p":0.070,"m":17.277},{"k":6,"b":"I","f":1,"s":"c","p":0.082,"m":17.282},{"k":6,"b":"I","f":1,"s":"t","p":0.229,"m":17.095},{"k":6,"b":"I","f":1,"s":"c","p":0.234,"m":17.143},{"k":6,"b":"I","f":1,"s":"c","p":0.308,"m":17.143},{"k":6,"b":"I","f":1,"s":"t","p":0.299,"m":17.148},{"k":6,"b":"I","f":0,"s":"t","p":0.369,"m":17.235},{"k":6,"b":"I","f":0,"s":"c","p":0.381,"m":17.296},{"k":6,"b":"I","f":0,"s":"c","p":0.484,"m":17.429},{"k":6,"b":"I","f":1,"s":"c","p":0.486,"m":17.435},{"k":6,"b":"I","f":0,"s":"t","p":0.472,"m":17.454},{"k":6,"b":"I","f":0,"s":"c","p":0.509,"m":17.473},{"k":6,"b":"I","f":1,"s":"c","p":0.572,"m":17.349},{"k":6,"b":"I","f":1,"s":"t","p":0.572,"m":17.359},{"k":6,"b":"I","f":1,"s":"c","p":0.790,"m":17.130},{"k":6,"b":"I","f":1,"s":"t","p":0.778,"m":17.139},{"k":6,"b":"I","f":0,"s":"c","p":0.811,"m":17.139},{"k":6,"b":"I","f":0,"s":"t","p":0.797,"m":17.155},{"k":6,"b":"I","f":1,"s":"c","p":0.846,"m":17.183},
{"k":6,"b":"V","f":1,"s":"c","p":0.070,"m":17.884},{"k":6,"b":"V","f":0,"s":"t","p":0.082,"m":17.903},{"k":6,"b":"V","f":1,"s":"c","p":0.234,"m":17.702},{"k":6,"b":"V","f":1,"s":"c","p":0.308,"m":17.750},{"k":6,"b":"V","f":0,"s":"c","p":0.381,"m":17.788},{"k":6,"b":"V","f":0,"s":"t","p":0.463,"m":17.979},{"k":6,"b":"V","f":0,"s":"c","p":0.486,"m":17.989},{"k":6,"b":"V","f":0,"s":"c","p":0.509,"m":18.013},{"k":6,"b":"V","f":1,"s":"c","p":0.577,"m":17.897},{"k":6,"b":"V","f":1,"s":"c","p":0.787,"m":17.721},{"k":6,"b":"V","f":0,"s":"t","p":0.806,"m":17.740},{"k":6,"b":"V","f":1,"s":"c","p":0.846,"m":17.731},
{"k":7,"b":"I","f":1,"s":"t","p":0.045,"m":16.159},{"k":7,"b":"I","f":0,"s":"c","p":0.056,"m":16.211},{"k":7,"b":"I","f":0,"s":"t","p":0.115,"m":16.281},{"k":7,"b":"I","f":0,"s":"c","p":0.143,"m":16.229},{"k":7,"b":"I","f":1,"s":"c","p":0.173,"m":16.294},{"k":7,"b":"I","f":0,"s":"t","p":0.237,"m":16.276},{"k":7,"b":"I","f":0,"s":"c","p":0.251,"m":16.211},{"k":7,"b":"I","f":0,"s":"t","p":0.401,"m":16.464},{"k":7,"b":"I","f":0,"s":"c","p":0.420,"m":16.451},{"k":7,"b":"I","f":1,"s":"c","p":0.459,"m":16.484},{"k":7,"b":"I","f":0,"s":"c","p":0.499,"m":16.464},{"k":7,"b":"I","f":1,"s":"c","p":0.518,"m":16.529},{"k":7,"b":"I","f":1,"s":"t","p":0.455,"m":16.594},{"k":7,"b":"I","f":1,"s":"c","p":0.701,"m":16.547},{"k":7,"b":"I","f":1,"s":"t","p":0.699,"m":16.530},{"k":7,"b":"I","f":1,"s":"c","p":0.942,"m":16.255},{"k":7,"b":"I","f":1,"s":"c","p":0.942,"m":16.313},{"k":7,"b":"I","f":1,"s":"t","p":0.930,"m":16.328},
{"k":7,"b":"V","f":0,"s":"c","p":0.056,"m":16.771},{"k":7,"b":"V","f":0,"s":"t","p":0.110,"m":16.888},{"k":7,"b":"V","f":0,"s":"c","p":0.143,"m":16.901},{"k":7,"b":"V","f":1,"s":"c","p":0.173,"m":16.977},{"k":7,"b":"V","f":0,"s":"c","p":0.248,"m":17.081},{"k":7,"b":"V","f":0,"s":"c","p":0.420,"m":17.279},{"k":7,"b":"V","f":0,"s":"t","p":0.408,"m":17.271},{"k":7,"b":"V","f":1,"s":"c","p":0.459,"m":17.297},{"k":7,"b":"V","f":1,"s":"t","p":0.455,"m":17.344},{"k":7,"b":"V","f":0,"s":"c","p":0.499,"m":17.323},{"k":7,"b":"V","f":1,"s":"c","p":0.518,"m":17.302},{"k":7,"b":"V","f":1,"s":"c","p":0.698,"m":17.375},{"k":7,"b":"V","f":1,"s":"c","p":0.940,"m":16.875},{"k":7,"b":"V","f":1,"s":"c","p":0.940,"m":16.927},
{"k":8,"b":"I","f":0,"s":"t","p":0.035,"m":16.389},{"k":8,"b":"I","f":1,"s":"t","p":0.210,"m":16.611},{"k":8,"b":"I","f":1,"s":"c","p":0.229,"m":16.633},{"k":8,"b":"I","f":1,"s":"t","p":0.238,"m":16.647},{"k":8,"b":"I","f":1,"s":"c","p":0.250,"m":16.661},{"k":8,"b":"I","f":1,"s":"t","p":0.262,"m":16.675},{"k":8,"b":"I","f":0,"s":"c","p":0.308,"m":16.717},{"k":8,"b":"I","f":1,"s":"c","p":0.437,"m":16.819},{"k":8,"b":"I","f":0,"s":"t","p":0.893,"m":16.828},{"k":8,"b":"I","f":0,"s":"c","p":0.900,"m":16.894},{"k":8,"b":"I","f":0,"s":"c","p":0.916,"m":17.028},{"k":8,"b":"I","f":0,"s":"t","p":0.965,"m":16.500},{"k":8,"b":"I","f":0,"s":"c","p":0.970,"m":16.467},{"k":8,"b":"I","f":0,"s":"c","p":0.974,"m":16.458},{"k":8,"b":"I","f":0,"s":"c","p":0.977,"m":16.356},
{"k":8,"b":"V","f":0,"s":"t","p":0.035,"m":17.000},{"k":8,"b":"V","f":1,"s":"t","p":0.210,"m":17.494},{"k":8,"b":"V","f":1,"s":"c","p":0.229,"m":17.506},{"k":8,"b":"V","f":1,"s":"t","p":0.238,"m":17.522},{"k":8,"b":"V","f":1,"s":"c","p":0.250,"m":17.542},{"k":8,"b":"V","f":0,"s":"c","p":0.308,"m":17.589},{"k":8,"b":"V","f":1,"s":"c","p":0.437,"m":17.694},{"k":8,"b":"V","f":0,"s":"c","p":0.900,"m":17.797},{"k":8,"b":"V","f":0,"s":"c","p":0.916,"m":17.708},{"k":8,"b":"V","f":0,"s":"c","p":0.977,"m":17.028},{"k":8,"b":"V","f":0,"s":"c","p":0.970,"m":17.106},
{"k":9,"b":"I","f":0,"s":"c","p":0.152,"m":17.147},{"k":9,"b":"I","f":0,"s":"t","p":0.147,"m":17.166},{"k":9,"b":"I","f":0,"s":"t","p":0.227,"m":17.243},{"k":9,"b":"I","f":0,"s":"c","p":0.229,"m":17.303},{"k":9,"b":"I","f":1,"s":"c","p":0.397,"m":17.356},{"k":9,"b":"I","f":1,"s":"t","p":0.397,"m":17.375},{"k":9,"b":"I","f":0,"s":"c","p":0.673,"m":17.441},{"k":9,"b":"I","f":0,"s":"t","p":0.671,"m":17.460},{"k":9,"b":"I","f":0,"s":"c","p":0.720,"m":17.478},{"k":9,"b":"I","f":1,"s":"t","p":0.713,"m":17.439},{"k":9,"b":"I","f":0,"s":"t","p":0.759,"m":17.284},{"k":9,"b":"I","f":1,"s":"c","p":0.794,"m":17.290},{"k":9,"b":"I","f":1,"s":"c","p":0.855,"m":17.190},{"k":9,"b":"I","f":1,"s":"c","p":0.904,"m":17.139},{"k":9,"b":"I","f":1,"s":"t","p":0.916,"m":17.109},{"k":9,"b":"I","f":1,"s":"c","p":0.928,"m":17.153},{"k":9,"b":"I","f":1,"s":"c","p":0.949,"m":17.153},
{"k":9,"b":"V","f":0,"s":"c","p":0.152,"m":17.746},{"k":9,"b":"V","f":0,"s":"c","p":0.229,"m":17.787},{"k":9,"b":"V","f":1,"s":"c","p":0.397,"m":17.900},{"k":9,"b":"V","f":1,"s":"t","p":0.397,"m":17.883},{"k":9,"b":"V","f":0,"s":"c","p":0.673,"m":17.983},{"k":9,"b":"V","f":0,"s":"c","p":0.720,"m":18.013},{"k":9,"b":"V","f":0,"s":"t","p":0.759,"m":17.906},{"k":9,"b":"V","f":1,"s":"c","p":0.794,"m":17.887},{"k":9,"b":"V","f":1,"s":"c","p":0.857,"m":17.733},{"k":9,"b":"V","f":1,"s":"c","p":0.900,"m":17.727},{"k":9,"b":"V","f":1,"s":"c","p":0.916,"m":17.708},{"k":9,"b":"V","f":1,"s":"c","p":0.951,"m":17.755}
],
"tx":[
{"k":1,"c":"n","p":0.183,"m":14.362,"t":"V14"},{"k":1,"c":"P","p":0.396,"m":14.362,"t":"P=0.3969"},{"k":1,"c":"d","p":0.881,"m":14.347,"t":"d"},{"k":1,"c":"I","p":1.146,"m":14.456,"t":"I+0.8"},{"k":1,"c":"V","p":1.151,"m":15.098,"t":"V"},
{"k":2,"c":"n","p":0.192,"m":16.285,"t":"V16"},{"k":2,"c":"P","p":0.404,"m":16.285,"t":"P=0.2725"},{"k":2,"c":"d","p":0.888,"m":16.264,"t":"d"},{"k":2,"c":"I","p":1.145,"m":16.602,"t":"I+0.5"},{"k":2,"c":"V","p":1.152,"m":17.299,"t":"V"},
{"k":3,"c":"n","p":0.187,"m":16.024,"t":"V18"},{"k":3,"c":"P","p":0.397,"m":16.024,"t":"P=0.5822"},{"k":3,"c":"d","p":0.893,"m":15.994,"t":"d"},{"k":3,"c":"I","p":1.145,"m":16.407,"t":"I+0.3"},{"k":3,"c":"V","p":1.145,"m":17.599,"t":"V"},
{"k":4,"c":"n","p":0.185,"m":14.336,"t":"V14"},{"k":4,"c":"P","p":0.396,"m":14.336,"t":"P=0.1984"},{"k":4,"c":"d","p":0.884,"m":14.322,"t":"d"},{"k":4,"c":"I","p":1.146,"m":14.643,"t":"I+0.8"},{"k":4,"c":"V","p":1.151,"m":15.099,"t":"V"},
{"k":5,"c":"n","p":0.192,"m":16.119,"t":"V17"},{"k":5,"c":"P","p":0.404,"m":16.119,"t":"P=0.4883"},{"k":5,"c":"d","p":0.876,"m":16.091,"t":"d"},{"k":5,"c":"I","p":1.145,"m":16.307,"t":"I+0.5"},{"k":5,"c":"V","p":1.145,"m":17.494,"t":"V"},
{"k":6,"c":"n","p":0.192,"m":16.971,"t":"V19"},{"k":6,"c":"P","p":0.397,"m":16.971,"t":"P=0.4225"},{"k":6,"c":"d","p":0.883,"m":16.952,"t":"d"},{"k":6,"c":"I","p":1.145,"m":17.401,"t":"I+0.6"},{"k":6,"c":"V","p":1.145,"m":17.899,"t":"V"},
{"k":7,"c":"n","p":0.185,"m":15.922,"t":"V15"},{"k":7,"c":"P","p":0.396,"m":15.922,"t":"P=0.5602"},{"k":7,"c":"d","p":0.884,"m":15.896,"t":"d"},{"k":7,"c":"I","p":1.146,"m":16.417,"t":"I+0.5"},{"k":7,"c":"V","p":1.151,"m":17.297,"t":"V"},
{"k":8,"c":"n","p":0.192,"m":16.319,"t":"V17"},{"k":8,"c":"P","p":0.404,"m":16.319,"t":"P=0.9769"},{"k":8,"c":"d","p":0.876,"m":16.292,"t":"d"},{"k":8,"c":"I","p":1.145,"m":16.606,"t":"I+0.5"},{"k":8,"c":"V","p":1.152,"m":17.494,"t":"V"},
{"k":9,"c":"n","p":0.192,"m":16.992,"t":"V19"},{"k":9,"c":"P","p":0.432,"m":16.992,"t":"P=2.076"},{"k":9,"c":"d","p":0.853,"m":16.974,"t":"d"},{"k":9,"c":"I","p":1.145,"m":17.307,"t":"I+0.6"},{"k":9,"c":"V","p":1.145,"m":17.902,"t":"V"}
]
},
"concat":[
{"width":227.5,"height":227.5,
 "encoding":{"x":{"field":"p","type":"quantitative","scale":{"domain":[-0.3,1.3],"nice":false,"zero":false},"axis":null},"y":{"field":"m","type":"quantitative","scale":{"domain":[14.3,15.3],"reverse":true,"nice":false,"zero":false},"axis":null}},
 "resolve":{"axis":{"x":"independent","y":"independent"}},
 "layer":[
  {"data":{"name":"cv"},"transform":[{"filter":"datum.k==1&&datum.b=='I'"}],"mark":{"type":"line","color":"#0000ff","strokeWidth":1.7,"strokeDash":[1.8,2.7],"interpolate":"monotone"},
   "encoding":{"x":{"field":"p","type":"quantitative","scale":{"domain":[-0.3,1.3],"nice":false,"zero":false},"axis":{"orient":"bottom","values":[-0.2,-0.1,0,0.1,0.2,0.3,0.4,0.5,0.6,0.7,0.8,0.9,1,1.1,1.2],"tickSize":{"condition":{"test":"abs(datum.value*2-round(datum.value*2))<0.01","value":-9},"value":-4.5},"labels":false,"title":null}},
   "y":{"field":"m","type":"quantitative","scale":{"domain":[14.3,15.3],"reverse":true,"nice":false,"zero":false},"axis":{"orient":"left","values":[14.4,14.5,14.6,14.7,14.8,14.9,15,15.1,15.2],"tickSize":{"condition":{"test":"abs(datum.value*2-round(datum.value*2))<0.01","value":-9},"value":-4.5},"labelExpr":"abs(datum.value*2-round(datum.value*2))<0.01 ? ''+datum.value : ''","labelAngle":-90,"labelAlign":"center","labelBaseline":"middle","labelPadding":16.5,"title":"Mag","titlePadding":5}}}},
  {"data":{"name":"cv"},"transform":[{"filter":"datum.k==1&&datum.b=='V'"}],"mark":{"type":"line","color":"#0000ff","strokeWidth":1.2,"interpolate":"monotone"},
   "encoding":{"x":{"field":"p","type":"quantitative","scale":{"domain":[-0.3,1.3],"nice":false,"zero":false},"axis":{"orient":"top","values":[-0.2,-0.1,0,0.1,0.2,0.3,0.4,0.5,0.6,0.7,0.8,0.9,1,1.1,1.2],"tickSize":{"condition":{"test":"abs(datum.value*2-round(datum.value*2))<0.01","value":-9},"value":-4.5},"labels":false,"title":null}},
   "y":{"field":"m","type":"quantitative","scale":{"domain":[14.3,15.3],"reverse":true,"nice":false,"zero":false},"axis":{"orient":"right","values":[14.4,14.5,14.6,14.7,14.8,14.9,15,15.1,15.2],"tickSize":{"condition":{"test":"abs(datum.value*2-round(datum.value*2))<0.01","value":-9},"value":-4.5},"labels":false,"title":null}}}},
  {"data":{"name":"pt"},"transform":[{"filter":"datum.k==1&&datum.f==1"}],"mark":{"type":"point","filled":true,"size":30,"opacity":1},"encoding":{"color":{"field":"b","type":"nominal","scale":{"domain":["I","V"],"range":["#ff0000","#00ee00"]},"legend":null},"shape":{"field":"s","type":"nominal","scale":{"domain":["c","t"],"range":["circle","triangle-up"]},"legend":null}}},
  {"data":{"name":"pt"},"transform":[{"filter":"datum.k==1&&datum.f==0"}],"mark":{"type":"point","filled":false,"size":30,"strokeWidth":1,"opacity":1},"encoding":{"color":{"field":"b","type":"nominal","scale":{"domain":["I","V"],"range":["#ff0000","#00ee00"]},"legend":null},"shape":{"field":"s","type":"nominal","scale":{"domain":["c","t"],"range":["circle","triangle-up"]},"legend":null}}},
  {"data":{"name":"tx"},"transform":[{"filter":"datum.k==1&&datum.c=='n'"}],"mark":{"type":"text","font":"DejaVu Serif","fontWeight":"bold","fontSize":13,"align":"center","baseline":"middle","color":"black"},"encoding":{"text":{"field":"t"}}},
  {"data":{"name":"tx"},"transform":[{"filter":"datum.k==1&&datum.c=='P'"}],"mark":{"type":"text","font":"DejaVu Sans","fontSize":13,"align":"left","baseline":"middle","color":"black"},"encoding":{"text":{"field":"t"}}},
  {"data":{"name":"tx"},"transform":[{"filter":"datum.k==1&&datum.c=='d'"}],"mark":{"type":"text","font":"DejaVu Sans","fontSize":9,"align":"left","baseline":"middle","color":"black"},"encoding":{"text":{"field":"t"}}},
  {"data":{"name":"tx"},"transform":[{"filter":"datum.k==1&&(datum.c=='I'||datum.c=='V')"}],"mark":{"type":"text","font":"DejaVu Serif","fontSize":14,"align":"center","baseline":"middle"},"encoding":{"text":{"field":"t"},"color":{"field":"c","type":"nominal","scale":{"domain":["I","V"],"range":["#ff0000","#00ee00"]},"legend":null}}}
 ]},
{"width":227.5,"height":227.5,
 "encoding":{"x":{"field":"p","type":"quantitative","scale":{"domain":[-0.3,1.3],"nice":false,"zero":false},"axis":null},"y":{"field":"m","type":"quantitative","scale":{"domain":[16.2,17.6],"reverse":true,"nice":false,"zero":false},"axis":null}},
 "resolve":{"axis":{"x":"independent","y":"independent"}},
 "layer":[
  {"data":{"name":"cv"},"transform":[{"filter":"datum.k==2&&datum.b=='I'"}],"mark":{"type":"line","color":"#0000ff","strokeWidth":1.7,"strokeDash":[1.8,2.7],"interpolate":"monotone"},
   "encoding":{"x":{"field":"p","type":"quantitative","scale":{"domain":[-0.3,1.3],"nice":false,"zero":false},"axis":{"orient":"bottom","values":[-0.2,-0.1,0,0.1,0.2,0.3,0.4,0.5,0.6,0.7,0.8,0.9,1,1.1,1.2],"tickSize":{"condition":{"test":"abs(datum.value*2-round(datum.value*2))<0.01","value":-9},"value":-4.5},"labels":false,"title":null}},
   "y":{"field":"m","type":"quantitative","scale":{"domain":[16.2,17.6],"reverse":true,"nice":false,"zero":false},"axis":{"orient":"left","values":[16.3,16.4,16.5,16.6,16.7,16.8,16.9,17,17.1,17.2,17.3,17.4,17.5],"tickSize":{"condition":{"test":"abs(datum.value*2-round(datum.value*2))<0.01","value":-9},"value":-4.5},"labelExpr":"abs(datum.value*2-round(datum.value*2))<0.01 ? ''+datum.value : ''","labelAngle":-90,"labelAlign":"center","labelBaseline":"middle","labelPadding":16.5,"title":null}}}},
  {"data":{"name":"cv"},"transform":[{"filter":"datum.k==2&&datum.b=='V'"}],"mark":{"type":"line","color":"#0000ff","strokeWidth":1.2,"interpolate":"monotone"},
   "encoding":{"x":{"field":"p","type":"quantitative","scale":{"domain":[-0.3,1.3],"nice":false,"zero":false},"axis":{"orient":"top","values":[-0.2,-0.1,0,0.1,0.2,0.3,0.4,0.5,0.6,0.7,0.8,0.9,1,1.1,1.2],"tickSize":{"condition":{"test":"abs(datum.value*2-round(datum.value*2))<0.01","value":-9},"value":-4.5},"labels":false,"title":null}},
   "y":{"field":"m","type":"quantitative","scale":{"domain":[16.2,17.6],"reverse":true,"nice":false,"zero":false},"axis":{"orient":"right","values":[16.3,16.4,16.5,16.6,16.7,16.8,16.9,17,17.1,17.2,17.3,17.4,17.5],"tickSize":{"condition":{"test":"abs(datum.value*2-round(datum.value*2))<0.01","value":-9},"value":-4.5},"labels":false,"title":null}}}},
  {"data":{"name":"pt"},"transform":[{"filter":"datum.k==2&&datum.f==1"}],"mark":{"type":"point","filled":true,"size":30,"opacity":1},"encoding":{"color":{"field":"b","type":"nominal","scale":{"domain":["I","V"],"range":["#ff0000","#00ee00"]},"legend":null},"shape":{"field":"s","type":"nominal","scale":{"domain":["c","t"],"range":["circle","triangle-up"]},"legend":null}}},
  {"data":{"name":"pt"},"transform":[{"filter":"datum.k==2&&datum.f==0"}],"mark":{"type":"point","filled":false,"size":30,"strokeWidth":1,"opacity":1},"encoding":{"color":{"field":"b","type":"nominal","scale":{"domain":["I","V"],"range":["#ff0000","#00ee00"]},"legend":null},"shape":{"field":"s","type":"nominal","scale":{"domain":["c","t"],"range":["circle","triangle-up"]},"legend":null}}},
  {"data":{"name":"tx"},"transform":[{"filter":"datum.k==2&&datum.c=='n'"}],"mark":{"type":"text","font":"DejaVu Serif","fontWeight":"bold","fontSize":13,"align":"center","baseline":"middle","color":"black"},"encoding":{"text":{"field":"t"}}},
  {"data":{"name":"tx"},"transform":[{"filter":"datum.k==2&&datum.c=='P'"}],"mark":{"type":"text","font":"DejaVu Sans","fontSize":13,"align":"left","baseline":"middle","color":"black"},"encoding":{"text":{"field":"t"}}},
  {"data":{"name":"tx"},"transform":[{"filter":"datum.k==2&&datum.c=='d'"}],"mark":{"type":"text","font":"DejaVu Sans","fontSize":9,"align":"left","baseline":"middle","color":"black"},"encoding":{"text":{"field":"t"}}},
  {"data":{"name":"tx"},"transform":[{"filter":"datum.k==2&&(datum.c=='I'||datum.c=='V')"}],"mark":{"type":"text","font":"DejaVu Serif","fontSize":14,"align":"center","baseline":"middle"},"encoding":{"text":{"field":"t"},"color":{"field":"c","type":"nominal","scale":{"domain":["I","V"],"range":["#ff0000","#00ee00"]},"legend":null}}}
 ]},
{"width":227.5,"height":227.5,
 "encoding":{"x":{"field":"p","type":"quantitative","scale":{"domain":[-0.3,1.3],"nice":false,"zero":false},"axis":null},"y":{"field":"m","type":"quantitative","scale":{"domain":[15.9,18.0],"reverse":true,"nice":false,"zero":false},"axis":null}},
 "resolve":{"axis":{"x":"independent","y":"independent"}},
 "layer":[
  {"data":{"name":"cv"},"transform":[{"filter":"datum.k==3&&datum.b=='I'"}],"mark":{"type":"line","color":"#0000ff","strokeWidth":1.7,"strokeDash":[1.8,2.7],"interpolate":"monotone"},
   "encoding":{"x":{"field":"p","type":"quantitative","scale":{"domain":[-0.3,1.3],"nice":false,"zero":false},"axis":{"orient":"bottom","values":[-0.2,-0.1,0,0.1,0.2,0.3,0.4,0.5,0.6,0.7,0.8,0.9,1,1.1,1.2],"tickSize":{"condition":{"test":"abs(datum.value*2-round(datum.value*2))<0.01","value":-9},"value":-4.5},"labels":false,"title":null}},
   "y":{"field":"m","type":"quantitative","scale":{"domain":[15.9,18.0],"reverse":true,"nice":false,"zero":false},"axis":{"orient":"left","values":[16,16.1,16.2,16.3,16.4,16.5,16.6,16.7,16.8,16.9,17,17.1,17.2,17.3,17.4,17.5,17.6,17.7,17.8,17.9],"tickSize":{"condition":{"test":"abs(datum.value-round(datum.value))<0.01","value":-9},"value":-4.5},"labelExpr":"abs(datum.value-round(datum.value))<0.01 ? ''+datum.value : ''","labelAngle":-90,"labelAlign":"center","labelBaseline":"middle","labelPadding":16.5,"title":null}}}},
  {"data":{"name":"cv"},"transform":[{"filter":"datum.k==3&&datum.b=='V'"}],"mark":{"type":"line","color":"#0000ff","strokeWidth":1.2,"interpolate":"monotone"},
   "encoding":{"x":{"field":"p","type":"quantitative","scale":{"domain":[-0.3,1.3],"nice":false,"zero":false},"axis":{"orient":"top","values":[-0.2,-0.1,0,0.1,0.2,0.3,0.4,0.5,0.6,0.7,0.8,0.9,1,1.1,1.2],"tickSize":{"condition":{"test":"abs(datum.value*2-round(datum.value*2))<0.01","value":-9},"value":-4.5},"labels":false,"title":null}},
   "y":{"field":"m","type":"quantitative","scale":{"domain":[15.9,18.0],"reverse":true,"nice":false,"zero":false},"axis":{"orient":"right","values":[16,16.1,16.2,16.3,16.4,16.5,16.6,16.7,16.8,16.9,17,17.1,17.2,17.3,17.4,17.5,17.6,17.7,17.8,17.9],"tickSize":{"condition":{"test":"abs(datum.value-round(datum.value))<0.01","value":-9},"value":-4.5},"labels":false,"title":null}}}},
  {"data":{"name":"pt"},"transform":[{"filter":"datum.k==3&&datum.f==1"}],"mark":{"type":"point","filled":true,"size":30,"opacity":1},"encoding":{"color":{"field":"b","type":"nominal","scale":{"domain":["I","V"],"range":["#ff0000","#00ee00"]},"legend":null},"shape":{"field":"s","type":"nominal","scale":{"domain":["c","t"],"range":["circle","triangle-up"]},"legend":null}}},
  {"data":{"name":"pt"},"transform":[{"filter":"datum.k==3&&datum.f==0"}],"mark":{"type":"point","filled":false,"size":30,"strokeWidth":1,"opacity":1},"encoding":{"color":{"field":"b","type":"nominal","scale":{"domain":["I","V"],"range":["#ff0000","#00ee00"]},"legend":null},"shape":{"field":"s","type":"nominal","scale":{"domain":["c","t"],"range":["circle","triangle-up"]},"legend":null}}},
  {"data":{"name":"tx"},"transform":[{"filter":"datum.k==3&&datum.c=='n'"}],"mark":{"type":"text","font":"DejaVu Serif","fontWeight":"bold","fontSize":13,"align":"center","baseline":"middle","color":"black"},"encoding":{"text":{"field":"t"}}},
  {"data":{"name":"tx"},"transform":[{"filter":"datum.k==3&&datum.c=='P'"}],"mark":{"type":"text","font":"DejaVu Sans","fontSize":13,"align":"left","baseline":"middle","color":"black"},"encoding":{"text":{"field":"t"}}},
  {"data":{"name":"tx"},"transform":[{"filter":"datum.k==3&&datum.c=='d'"}],"mark":{"type":"text","font":"DejaVu Sans","fontSize":9,"align":"left","baseline":"middle","color":"black"},"encoding":{"text":{"field":"t"}}},
  {"data":{"name":"tx"},"transform":[{"filter":"datum.k==3&&(datum.c=='I'||datum.c=='V')"}],"mark":{"type":"text","font":"DejaVu Serif","fontSize":14,"align":"center","baseline":"middle"},"encoding":{"text":{"field":"t"},"color":{"field":"c","type":"nominal","scale":{"domain":["I","V"],"range":["#ff0000","#00ee00"]},"legend":null}}}
 ]},
{"width":227.5,"height":227.5,
 "encoding":{"x":{"field":"p","type":"quantitative","scale":{"domain":[-0.3,1.3],"nice":false,"zero":false},"axis":null},"y":{"field":"m","type":"quantitative","scale":{"domain":[14.3,15.3],"reverse":true,"nice":false,"zero":false},"axis":null}},
 "resolve":{"axis":{"x":"independent","y":"independent"}},
 "layer":[
  {"data":{"name":"cv"},"transform":[{"filter":"datum.k==4&&datum.b=='I'"}],"mark":{"type":"line","color":"#0000ff","strokeWidth":1.7,"strokeDash":[1.8,2.7],"interpolate":"monotone"},
   "encoding":{"x":{"field":"p","type":"quantitative","scale":{"domain":[-0.3,1.3],"nice":false,"zero":false},"axis":{"orient":"bottom","values":[-0.2,-0.1,0,0.1,0.2,0.3,0.4,0.5,0.6,0.7,0.8,0.9,1,1.1,1.2],"tickSize":{"condition":{"test":"abs(datum.value*2-round(datum.value*2))<0.01","value":-9},"value":-4.5},"labels":false,"title":null}},
   "y":{"field":"m","type":"quantitative","scale":{"domain":[14.3,15.3],"reverse":true,"nice":false,"zero":false},"axis":{"orient":"left","values":[14.4,14.5,14.6,14.7,14.8,14.9,15,15.1,15.2],"tickSize":{"condition":{"test":"abs(datum.value*2-round(datum.value*2))<0.01","value":-9},"value":-4.5},"labelExpr":"abs(datum.value*2-round(datum.value*2))<0.01 ? ''+datum.value : ''","labelAngle":-90,"labelAlign":"center","labelBaseline":"middle","labelPadding":16.5,"title":"Mag","titlePadding":5}}}},
  {"data":{"name":"cv"},"transform":[{"filter":"datum.k==4&&datum.b=='V'"}],"mark":{"type":"line","color":"#0000ff","strokeWidth":1.2,"interpolate":"monotone"},
   "encoding":{"x":{"field":"p","type":"quantitative","scale":{"domain":[-0.3,1.3],"nice":false,"zero":false},"axis":{"orient":"top","values":[-0.2,-0.1,0,0.1,0.2,0.3,0.4,0.5,0.6,0.7,0.8,0.9,1,1.1,1.2],"tickSize":{"condition":{"test":"abs(datum.value*2-round(datum.value*2))<0.01","value":-9},"value":-4.5},"labels":false,"title":null}},
   "y":{"field":"m","type":"quantitative","scale":{"domain":[14.3,15.3],"reverse":true,"nice":false,"zero":false},"axis":{"orient":"right","values":[14.4,14.5,14.6,14.7,14.8,14.9,15,15.1,15.2],"tickSize":{"condition":{"test":"abs(datum.value*2-round(datum.value*2))<0.01","value":-9},"value":-4.5},"labels":false,"title":null}}}},
  {"data":{"name":"pt"},"transform":[{"filter":"datum.k==4&&datum.f==1"}],"mark":{"type":"point","filled":true,"size":30,"opacity":1},"encoding":{"color":{"field":"b","type":"nominal","scale":{"domain":["I","V"],"range":["#ff0000","#00ee00"]},"legend":null},"shape":{"field":"s","type":"nominal","scale":{"domain":["c","t"],"range":["circle","triangle-up"]},"legend":null}}},
  {"data":{"name":"pt"},"transform":[{"filter":"datum.k==4&&datum.f==0"}],"mark":{"type":"point","filled":false,"size":30,"strokeWidth":1,"opacity":1},"encoding":{"color":{"field":"b","type":"nominal","scale":{"domain":["I","V"],"range":["#ff0000","#00ee00"]},"legend":null},"shape":{"field":"s","type":"nominal","scale":{"domain":["c","t"],"range":["circle","triangle-up"]},"legend":null}}},
  {"data":{"name":"tx"},"transform":[{"filter":"datum.k==4&&datum.c=='n'"}],"mark":{"type":"text","font":"DejaVu Serif","fontWeight":"bold","fontSize":13,"align":"center","baseline":"middle","color":"black"},"encoding":{"text":{"field":"t"}}},
  {"data":{"name":"tx"},"transform":[{"filter":"datum.k==4&&datum.c=='P'"}],"mark":{"type":"text","font":"DejaVu Sans","fontSize":13,"align":"left","baseline":"middle","color":"black"},"encoding":{"text":{"field":"t"}}},
  {"data":{"name":"tx"},"transform":[{"filter":"datum.k==4&&datum.c=='d'"}],"mark":{"type":"text","font":"DejaVu Sans","fontSize":9,"align":"left","baseline":"middle","color":"black"},"encoding":{"text":{"field":"t"}}},
  {"data":{"name":"tx"},"transform":[{"filter":"datum.k==4&&(datum.c=='I'||datum.c=='V')"}],"mark":{"type":"text","font":"DejaVu Serif","fontSize":14,"align":"center","baseline":"middle"},"encoding":{"text":{"field":"t"},"color":{"field":"c","type":"nominal","scale":{"domain":["I","V"],"range":["#ff0000","#00ee00"]},"legend":null}}}
 ]},
{"width":227.5,"height":227.5,
 "encoding":{"x":{"field":"p","type":"quantitative","scale":{"domain":[-0.3,1.3],"nice":false,"zero":false},"axis":null},"y":{"field":"m","type":"quantitative","scale":{"domain":[16.0,17.9],"reverse":true,"nice":false,"zero":false},"axis":null}},
 "resolve":{"axis":{"x":"independent","y":"independent"}},
 "layer":[
  {"data":{"name":"cv"},"transform":[{"filter":"datum.k==5&&datum.b=='I'"}],"mark":{"type":"line","color":"#0000ff","strokeWidth":1.7,"strokeDash":[1.8,2.7],"interpolate":"monotone"},
   "encoding":{"x":{"field":"p","type":"quantitative","scale":{"domain":[-0.3,1.3],"nice":false,"zero":false},"axis":{"orient":"bottom","values":[-0.2,-0.1,0,0.1,0.2,0.3,0.4,0.5,0.6,0.7,0.8,0.9,1,1.1,1.2],"tickSize":{"condition":{"test":"abs(datum.value*2-round(datum.value*2))<0.01","value":-9},"value":-4.5},"labels":false,"title":null}},
   "y":{"field":"m","type":"quantitative","scale":{"domain":[16.0,17.9],"reverse":true,"nice":false,"zero":false},"axis":{"orient":"left","values":[16.1,16.2,16.3,16.4,16.5,16.6,16.7,16.8,16.9,17,17.1,17.2,17.3,17.4,17.5,17.6,17.7,17.8],"tickSize":{"condition":{"test":"abs(datum.value*2-round(datum.value*2))<0.01","value":-9},"value":-4.5},"labelExpr":"abs(datum.value*2-round(datum.value*2))<0.01 ? ''+datum.value : ''","labelAngle":-90,"labelAlign":"center","labelBaseline":"middle","labelPadding":16.5,"title":null}}}},
  {"data":{"name":"cv"},"transform":[{"filter":"datum.k==5&&datum.b=='V'"}],"mark":{"type":"line","color":"#0000ff","strokeWidth":1.2,"interpolate":"monotone"},
   "encoding":{"x":{"field":"p","type":"quantitative","scale":{"domain":[-0.3,1.3],"nice":false,"zero":false},"axis":{"orient":"top","values":[-0.2,-0.1,0,0.1,0.2,0.3,0.4,0.5,0.6,0.7,0.8,0.9,1,1.1,1.2],"tickSize":{"condition":{"test":"abs(datum.value*2-round(datum.value*2))<0.01","value":-9},"value":-4.5},"labels":false,"title":null}},
   "y":{"field":"m","type":"quantitative","scale":{"domain":[16.0,17.9],"reverse":true,"nice":false,"zero":false},"axis":{"orient":"right","values":[16.1,16.2,16.3,16.4,16.5,16.6,16.7,16.8,16.9,17,17.1,17.2,17.3,17.4,17.5,17.6,17.7,17.8],"tickSize":{"condition":{"test":"abs(datum.value*2-round(datum.value*2))<0.01","value":-9},"value":-4.5},"labels":false,"title":null}}}},
  {"data":{"name":"pt"},"transform":[{"filter":"datum.k==5&&datum.f==1"}],"mark":{"type":"point","filled":true,"size":30,"opacity":1},"encoding":{"color":{"field":"b","type":"nominal","scale":{"domain":["I","V"],"range":["#ff0000","#00ee00"]},"legend":null},"shape":{"field":"s","type":"nominal","scale":{"domain":["c","t"],"range":["circle","triangle-up"]},"legend":null}}},
  {"data":{"name":"pt"},"transform":[{"filter":"datum.k==5&&datum.f==0"}],"mark":{"type":"point","filled":false,"size":30,"strokeWidth":1,"opacity":1},"encoding":{"color":{"field":"b","type":"nominal","scale":{"domain":["I","V"],"range":["#ff0000","#00ee00"]},"legend":null},"shape":{"field":"s","type":"nominal","scale":{"domain":["c","t"],"range":["circle","triangle-up"]},"legend":null}}},
  {"data":{"name":"tx"},"transform":[{"filter":"datum.k==5&&datum.c=='n'"}],"mark":{"type":"text","font":"DejaVu Serif","fontWeight":"bold","fontSize":13,"align":"center","baseline":"middle","color":"black"},"encoding":{"text":{"field":"t"}}},
  {"data":{"name":"tx"},"transform":[{"filter":"datum.k==5&&datum.c=='P'"}],"mark":{"type":"text","font":"DejaVu Sans","fontSize":13,"align":"left","baseline":"middle","color":"black"},"encoding":{"text":{"field":"t"}}},
  {"data":{"name":"tx"},"transform":[{"filter":"datum.k==5&&datum.c=='d'"}],"mark":{"type":"text","font":"DejaVu Sans","fontSize":9,"align":"left","baseline":"middle","color":"black"},"encoding":{"text":{"field":"t"}}},
  {"data":{"name":"tx"},"transform":[{"filter":"datum.k==5&&(datum.c=='I'||datum.c=='V')"}],"mark":{"type":"text","font":"DejaVu Serif","fontSize":14,"align":"center","baseline":"middle"},"encoding":{"text":{"field":"t"},"color":{"field":"c","type":"nominal","scale":{"domain":["I","V"],"range":["#ff0000","#00ee00"]},"legend":null}}}
 ]},
{"width":227.5,"height":227.5,
 "encoding":{"x":{"field":"p","type":"quantitative","scale":{"domain":[-0.3,1.3],"nice":false,"zero":false},"axis":null},"y":{"field":"m","type":"quantitative","scale":{"domain":[16.9,18.2],"reverse":true,"nice":false,"zero":false},"axis":null}},
 "resolve":{"axis":{"x":"independent","y":"independent"}},
 "layer":[
  {"data":{"name":"cv"},"transform":[{"filter":"datum.k==6&&datum.b=='I'"}],"mark":{"type":"line","color":"#0000ff","strokeWidth":1.7,"strokeDash":[1.8,2.7],"interpolate":"monotone"},
   "encoding":{"x":{"field":"p","type":"quantitative","scale":{"domain":[-0.3,1.3],"nice":false,"zero":false},"axis":{"orient":"bottom","values":[-0.2,-0.1,0,0.1,0.2,0.3,0.4,0.5,0.6,0.7,0.8,0.9,1,1.1,1.2],"tickSize":{"condition":{"test":"abs(datum.value*2-round(datum.value*2))<0.01","value":-9},"value":-4.5},"labels":false,"title":null}},
   "y":{"field":"m","type":"quantitative","scale":{"domain":[16.9,18.2],"reverse":true,"nice":false,"zero":false},"axis":{"orient":"left","values":[17,17.1,17.2,17.3,17.4,17.5,17.6,17.7,17.8,17.9,18,18.1],"tickSize":{"condition":{"test":"abs(datum.value*2-round(datum.value*2))<0.01","value":-9},"value":-4.5},"labelExpr":"abs(datum.value*2-round(datum.value*2))<0.01 ? ''+datum.value : ''","labelAngle":-90,"labelAlign":"center","labelBaseline":"middle","labelPadding":16.5,"title":null}}}},
  {"data":{"name":"cv"},"transform":[{"filter":"datum.k==6&&datum.b=='V'"}],"mark":{"type":"line","color":"#0000ff","strokeWidth":1.2,"interpolate":"monotone"},
   "encoding":{"x":{"field":"p","type":"quantitative","scale":{"domain":[-0.3,1.3],"nice":false,"zero":false},"axis":{"orient":"top","values":[-0.2,-0.1,0,0.1,0.2,0.3,0.4,0.5,0.6,0.7,0.8,0.9,1,1.1,1.2],"tickSize":{"condition":{"test":"abs(datum.value*2-round(datum.value*2))<0.01","value":-9},"value":-4.5},"labels":false,"title":null}},
   "y":{"field":"m","type":"quantitative","scale":{"domain":[16.9,18.2],"reverse":true,"nice":false,"zero":false},"axis":{"orient":"right","values":[17,17.1,17.2,17.3,17.4,17.5,17.6,17.7,17.8,17.9,18,18.1],"tickSize":{"condition":{"test":"abs(datum.value*2-round(datum.value*2))<0.01","value":-9},"value":-4.5},"labels":false,"title":null}}}},
  {"data":{"name":"pt"},"transform":[{"filter":"datum.k==6&&datum.f==1"}],"mark":{"type":"point","filled":true,"size":30,"opacity":1},"encoding":{"color":{"field":"b","type":"nominal","scale":{"domain":["I","V"],"range":["#ff0000","#00ee00"]},"legend":null},"shape":{"field":"s","type":"nominal","scale":{"domain":["c","t"],"range":["circle","triangle-up"]},"legend":null}}},
  {"data":{"name":"pt"},"transform":[{"filter":"datum.k==6&&datum.f==0"}],"mark":{"type":"point","filled":false,"size":30,"strokeWidth":1,"opacity":1},"encoding":{"color":{"field":"b","type":"nominal","scale":{"domain":["I","V"],"range":["#ff0000","#00ee00"]},"legend":null},"shape":{"field":"s","type":"nominal","scale":{"domain":["c","t"],"range":["circle","triangle-up"]},"legend":null}}},
  {"data":{"name":"tx"},"transform":[{"filter":"datum.k==6&&datum.c=='n'"}],"mark":{"type":"text","font":"DejaVu Serif","fontWeight":"bold","fontSize":13,"align":"center","baseline":"middle","color":"black"},"encoding":{"text":{"field":"t"}}},
  {"data":{"name":"tx"},"transform":[{"filter":"datum.k==6&&datum.c=='P'"}],"mark":{"type":"text","font":"DejaVu Sans","fontSize":13,"align":"left","baseline":"middle","color":"black"},"encoding":{"text":{"field":"t"}}},
  {"data":{"name":"tx"},"transform":[{"filter":"datum.k==6&&datum.c=='d'"}],"mark":{"type":"text","font":"DejaVu Sans","fontSize":9,"align":"left","baseline":"middle","color":"black"},"encoding":{"text":{"field":"t"}}},
  {"data":{"name":"tx"},"transform":[{"filter":"datum.k==6&&(datum.c=='I'||datum.c=='V')"}],"mark":{"type":"text","font":"DejaVu Serif","fontSize":14,"align":"center","baseline":"middle"},"encoding":{"text":{"field":"t"},"color":{"field":"c","type":"nominal","scale":{"domain":["I","V"],"range":["#ff0000","#00ee00"]},"legend":null}}}
 ]},
{"width":227.5,"height":227.5,
 "encoding":{"x":{"field":"p","type":"quantitative","scale":{"domain":[-0.3,1.3],"nice":false,"zero":false},"axis":null},"y":{"field":"m","type":"quantitative","scale":{"domain":[15.8,17.6],"reverse":true,"nice":false,"zero":false},"axis":null}},
 "resolve":{"axis":{"x":"independent","y":"independent"}},
 "layer":[
  {"data":{"name":"cv"},"transform":[{"filter":"datum.k==7&&datum.b=='I'"}],"mark":{"type":"line","color":"#0000ff","strokeWidth":1.7,"strokeDash":[1.8,2.7],"interpolate":"monotone"},
   "encoding":{"x":{"field":"p","type":"quantitative","scale":{"domain":[-0.3,1.3],"nice":false,"zero":false},"axis":{"orient":"bottom","values":[-0.2,-0.1,0,0.1,0.2,0.3,0.4,0.5,0.6,0.7,0.8,0.9,1,1.1,1.2],"tickSize":{"condition":{"test":"abs(datum.value*2-round(datum.value*2))<0.01","value":-9},"value":-4.5},"labelExpr":"abs(datum.value*2-round(datum.value*2))<0.01 ? ''+datum.value : ''","labelPadding":7,"title":"Phase","titlePadding":3}},
   "y":{"field":"m","type":"quantitative","scale":{"domain":[15.8,17.6],"reverse":true,"nice":false,"zero":false},"axis":{"orient":"left","values":[15.9,16,16.1,16.2,16.3,16.4,16.5,16.6,16.7,16.8,16.9,17,17.1,17.2,17.3,17.4,17.5],"tickSize":{"condition":{"test":"abs(datum.value-round(datum.value))<0.01","value":-9},"value":-4.5},"labelExpr":"abs(datum.value-round(datum.value))<0.01 ? ''+datum.value : ''","labelAngle":-90,"labelAlign":"center","labelBaseline":"middle","labelPadding":16.5,"title":"Mag","titlePadding":5}}}},
  {"data":{"name":"cv"},"transform":[{"filter":"datum.k==7&&datum.b=='V'"}],"mark":{"type":"line","color":"#0000ff","strokeWidth":1.2,"interpolate":"monotone"},
   "encoding":{"x":{"field":"p","type":"quantitative","scale":{"domain":[-0.3,1.3],"nice":false,"zero":false},"axis":{"orient":"top","values":[-0.2,-0.1,0,0.1,0.2,0.3,0.4,0.5,0.6,0.7,0.8,0.9,1,1.1,1.2],"tickSize":{"condition":{"test":"abs(datum.value*2-round(datum.value*2))<0.01","value":-9},"value":-4.5},"labels":false,"title":null}},
   "y":{"field":"m","type":"quantitative","scale":{"domain":[15.8,17.6],"reverse":true,"nice":false,"zero":false},"axis":{"orient":"right","values":[15.9,16,16.1,16.2,16.3,16.4,16.5,16.6,16.7,16.8,16.9,17,17.1,17.2,17.3,17.4,17.5],"tickSize":{"condition":{"test":"abs(datum.value-round(datum.value))<0.01","value":-9},"value":-4.5},"labels":false,"title":null}}}},
  {"data":{"name":"pt"},"transform":[{"filter":"datum.k==7&&datum.f==1"}],"mark":{"type":"point","filled":true,"size":30,"opacity":1},"encoding":{"color":{"field":"b","type":"nominal","scale":{"domain":["I","V"],"range":["#ff0000","#00ee00"]},"legend":null},"shape":{"field":"s","type":"nominal","scale":{"domain":["c","t"],"range":["circle","triangle-up"]},"legend":null}}},
  {"data":{"name":"pt"},"transform":[{"filter":"datum.k==7&&datum.f==0"}],"mark":{"type":"point","filled":false,"size":30,"strokeWidth":1,"opacity":1},"encoding":{"color":{"field":"b","type":"nominal","scale":{"domain":["I","V"],"range":["#ff0000","#00ee00"]},"legend":null},"shape":{"field":"s","type":"nominal","scale":{"domain":["c","t"],"range":["circle","triangle-up"]},"legend":null}}},
  {"data":{"name":"tx"},"transform":[{"filter":"datum.k==7&&datum.c=='n'"}],"mark":{"type":"text","font":"DejaVu Serif","fontWeight":"bold","fontSize":13,"align":"center","baseline":"middle","color":"black"},"encoding":{"text":{"field":"t"}}},
  {"data":{"name":"tx"},"transform":[{"filter":"datum.k==7&&datum.c=='P'"}],"mark":{"type":"text","font":"DejaVu Sans","fontSize":13,"align":"left","baseline":"middle","color":"black"},"encoding":{"text":{"field":"t"}}},
  {"data":{"name":"tx"},"transform":[{"filter":"datum.k==7&&datum.c=='d'"}],"mark":{"type":"text","font":"DejaVu Sans","fontSize":9,"align":"left","baseline":"middle","color":"black"},"encoding":{"text":{"field":"t"}}},
  {"data":{"name":"tx"},"transform":[{"filter":"datum.k==7&&(datum.c=='I'||datum.c=='V')"}],"mark":{"type":"text","font":"DejaVu Serif","fontSize":14,"align":"center","baseline":"middle"},"encoding":{"text":{"field":"t"},"color":{"field":"c","type":"nominal","scale":{"domain":["I","V"],"range":["#ff0000","#00ee00"]},"legend":null}}}
 ]},
{"width":227.5,"height":227.5,
 "encoding":{"x":{"field":"p","type":"quantitative","scale":{"domain":[-0.3,1.3],"nice":false,"zero":false},"axis":null},"y":{"field":"m","type":"quantitative","scale":{"domain":[16.2,18.1],"reverse":true,"nice":false,"zero":false},"axis":null}},
 "resolve":{"axis":{"x":"independent","y":"independent"}},
 "layer":[
  {"data":{"name":"cv"},"transform":[{"filter":"datum.k==8&&datum.b=='I'"}],"mark":{"type":"line","color":"#0000ff","strokeWidth":1.7,"strokeDash":[1.8,2.7],"interpolate":"monotone"},
   "encoding":{"x":{"field":"p","type":"quantitative","scale":{"domain":[-0.3,1.3],"nice":false,"zero":false},"axis":{"orient":"bottom","values":[-0.2,-0.1,0,0.1,0.2,0.3,0.4,0.5,0.6,0.7,0.8,0.9,1,1.1,1.2],"tickSize":{"condition":{"test":"abs(datum.value*2-round(datum.value*2))<0.01","value":-9},"value":-4.5},"labelExpr":"abs(datum.value*2-round(datum.value*2))<0.01 ? ''+datum.value : ''","labelPadding":7,"title":"Phase","titlePadding":3}},
   "y":{"field":"m","type":"quantitative","scale":{"domain":[16.2,18.1],"reverse":true,"nice":false,"zero":false},"axis":{"orient":"left","values":[16.3,16.4,16.5,16.6,16.7,16.8,16.9,17,17.1,17.2,17.3,17.4,17.5,17.6,17.7,17.8,17.9,18],"tickSize":{"condition":{"test":"abs(datum.value-round(datum.value))<0.01","value":-9},"value":-4.5},"labelExpr":"abs(datum.value-round(datum.value))<0.01 ? ''+datum.value : ''","labelAngle":-90,"labelAlign":"center","labelBaseline":"middle","labelPadding":16.5,"title":null}}}},
  {"data":{"name":"cv"},"transform":[{"filter":"datum.k==8&&datum.b=='V'"}],"mark":{"type":"line","color":"#0000ff","strokeWidth":1.2,"interpolate":"monotone"},
   "encoding":{"x":{"field":"p","type":"quantitative","scale":{"domain":[-0.3,1.3],"nice":false,"zero":false},"axis":{"orient":"top","values":[-0.2,-0.1,0,0.1,0.2,0.3,0.4,0.5,0.6,0.7,0.8,0.9,1,1.1,1.2],"tickSize":{"condition":{"test":"abs(datum.value*2-round(datum.value*2))<0.01","value":-9},"value":-4.5},"labels":false,"title":null}},
   "y":{"field":"m","type":"quantitative","scale":{"domain":[16.2,18.1],"reverse":true,"nice":false,"zero":false},"axis":{"orient":"right","values":[16.3,16.4,16.5,16.6,16.7,16.8,16.9,17,17.1,17.2,17.3,17.4,17.5,17.6,17.7,17.8,17.9,18],"tickSize":{"condition":{"test":"abs(datum.value-round(datum.value))<0.01","value":-9},"value":-4.5},"labels":false,"title":null}}}},
  {"data":{"name":"pt"},"transform":[{"filter":"datum.k==8&&datum.f==1"}],"mark":{"type":"point","filled":true,"size":30,"opacity":1},"encoding":{"color":{"field":"b","type":"nominal","scale":{"domain":["I","V"],"range":["#ff0000","#00ee00"]},"legend":null},"shape":{"field":"s","type":"nominal","scale":{"domain":["c","t"],"range":["circle","triangle-up"]},"legend":null}}},
  {"data":{"name":"pt"},"transform":[{"filter":"datum.k==8&&datum.f==0"}],"mark":{"type":"point","filled":false,"size":30,"strokeWidth":1,"opacity":1},"encoding":{"color":{"field":"b","type":"nominal","scale":{"domain":["I","V"],"range":["#ff0000","#00ee00"]},"legend":null},"shape":{"field":"s","type":"nominal","scale":{"domain":["c","t"],"range":["circle","triangle-up"]},"legend":null}}},
  {"data":{"name":"tx"},"transform":[{"filter":"datum.k==8&&datum.c=='n'"}],"mark":{"type":"text","font":"DejaVu Serif","fontWeight":"bold","fontSize":13,"align":"center","baseline":"middle","color":"black"},"encoding":{"text":{"field":"t"}}},
  {"data":{"name":"tx"},"transform":[{"filter":"datum.k==8&&datum.c=='P'"}],"mark":{"type":"text","font":"DejaVu Sans","fontSize":13,"align":"left","baseline":"middle","color":"black"},"encoding":{"text":{"field":"t"}}},
  {"data":{"name":"tx"},"transform":[{"filter":"datum.k==8&&datum.c=='d'"}],"mark":{"type":"text","font":"DejaVu Sans","fontSize":9,"align":"left","baseline":"middle","color":"black"},"encoding":{"text":{"field":"t"}}},
  {"data":{"name":"tx"},"transform":[{"filter":"datum.k==8&&(datum.c=='I'||datum.c=='V')"}],"mark":{"type":"text","font":"DejaVu Serif","fontSize":14,"align":"center","baseline":"middle"},"encoding":{"text":{"field":"t"},"color":{"field":"c","type":"nominal","scale":{"domain":["I","V"],"range":["#ff0000","#00ee00"]},"legend":null}}}
 ]},
{"width":227.5,"height":227.5,
 "encoding":{"x":{"field":"p","type":"quantitative","scale":{"domain":[-0.3,1.3],"nice":false,"zero":false},"axis":null},"y":{"field":"m","type":"quantitative","scale":{"domain":[16.9,18.2],"reverse":true,"nice":false,"zero":false},"axis":null}},
 "resolve":{"axis":{"x":"independent","y":"independent"}},
 "layer":[
  {"data":{"name":"cv"},"transform":[{"filter":"datum.k==9&&datum.b=='I'"}],"mark":{"type":"line","color":"#0000ff","strokeWidth":1.7,"strokeDash":[1.8,2.7],"interpolate":"monotone"},
   "encoding":{"x":{"field":"p","type":"quantitative","scale":{"domain":[-0.3,1.3],"nice":false,"zero":false},"axis":{"orient":"bottom","values":[-0.2,-0.1,0,0.1,0.2,0.3,0.4,0.5,0.6,0.7,0.8,0.9,1,1.1,1.2],"tickSize":{"condition":{"test":"abs(datum.value*2-round(datum.value*2))<0.01","value":-9},"value":-4.5},"labelExpr":"abs(datum.value*2-round(datum.value*2))<0.01 ? ''+datum.value : ''","labelPadding":7,"title":"Phase","titlePadding":3}},
   "y":{"field":"m","type":"quantitative","scale":{"domain":[16.9,18.2],"reverse":true,"nice":false,"zero":false},"axis":{"orient":"left","values":[17,17.1,17.2,17.3,17.4,17.5,17.6,17.7,17.8,17.9,18,18.1],"tickSize":{"condition":{"test":"abs(datum.value*2-round(datum.value*2))<0.01","value":-9},"value":-4.5},"labelExpr":"abs(datum.value*2-round(datum.value*2))<0.01 ? ''+datum.value : ''","labelAngle":-90,"labelAlign":"center","labelBaseline":"middle","labelPadding":16.5,"title":null}}}},
  {"data":{"name":"cv"},"transform":[{"filter":"datum.k==9&&datum.b=='V'"}],"mark":{"type":"line","color":"#0000ff","strokeWidth":1.2,"interpolate":"monotone"},
   "encoding":{"x":{"field":"p","type":"quantitative","scale":{"domain":[-0.3,1.3],"nice":false,"zero":false},"axis":{"orient":"top","values":[-0.2,-0.1,0,0.1,0.2,0.3,0.4,0.5,0.6,0.7,0.8,0.9,1,1.1,1.2],"tickSize":{"condition":{"test":"abs(datum.value*2-round(datum.value*2))<0.01","value":-9},"value":-4.5},"labels":false,"title":null}},
   "y":{"field":"m","type":"quantitative","scale":{"domain":[16.9,18.2],"reverse":true,"nice":false,"zero":false},"axis":{"orient":"right","values":[17,17.1,17.2,17.3,17.4,17.5,17.6,17.7,17.8,17.9,18,18.1],"tickSize":{"condition":{"test":"abs(datum.value*2-round(datum.value*2))<0.01","value":-9},"value":-4.5},"labels":false,"title":null}}}},
  {"data":{"name":"pt"},"transform":[{"filter":"datum.k==9&&datum.f==1"}],"mark":{"type":"point","filled":true,"size":30,"opacity":1},"encoding":{"color":{"field":"b","type":"nominal","scale":{"domain":["I","V"],"range":["#ff0000","#00ee00"]},"legend":null},"shape":{"field":"s","type":"nominal","scale":{"domain":["c","t"],"range":["circle","triangle-up"]},"legend":null}}},
  {"data":{"name":"pt"},"transform":[{"filter":"datum.k==9&&datum.f==0"}],"mark":{"type":"point","filled":false,"size":30,"strokeWidth":1,"opacity":1},"encoding":{"color":{"field":"b","type":"nominal","scale":{"domain":["I","V"],"range":["#ff0000","#00ee00"]},"legend":null},"shape":{"field":"s","type":"nominal","scale":{"domain":["c","t"],"range":["circle","triangle-up"]},"legend":null}}},
  {"data":{"name":"tx"},"transform":[{"filter":"datum.k==9&&datum.c=='n'"}],"mark":{"type":"text","font":"DejaVu Serif","fontWeight":"bold","fontSize":13,"align":"center","baseline":"middle","color":"black"},"encoding":{"text":{"field":"t"}}},
  {"data":{"name":"tx"},"transform":[{"filter":"datum.k==9&&datum.c=='P'"}],"mark":{"type":"text","font":"DejaVu Sans","fontSize":13,"align":"left","baseline":"middle","color":"black"},"encoding":{"text":{"field":"t"}}},
  {"data":{"name":"tx"},"transform":[{"filter":"datum.k==9&&datum.c=='d'"}],"mark":{"type":"text","font":"DejaVu Sans","fontSize":9,"align":"left","baseline":"middle","color":"black"},"encoding":{"text":{"field":"t"}}},
  {"data":{"name":"tx"},"transform":[{"filter":"datum.k==9&&(datum.c=='I'||datum.c=='V')"}],"mark":{"type":"text","font":"DejaVu Serif","fontSize":14,"align":"center","baseline":"middle"},"encoding":{"text":{"field":"t"},"color":{"field":"c","type":"nominal","scale":{"domain":["I","V"],"range":["#ff0000","#00ee00"]},"legend":null}}}
 ]}
]
}
